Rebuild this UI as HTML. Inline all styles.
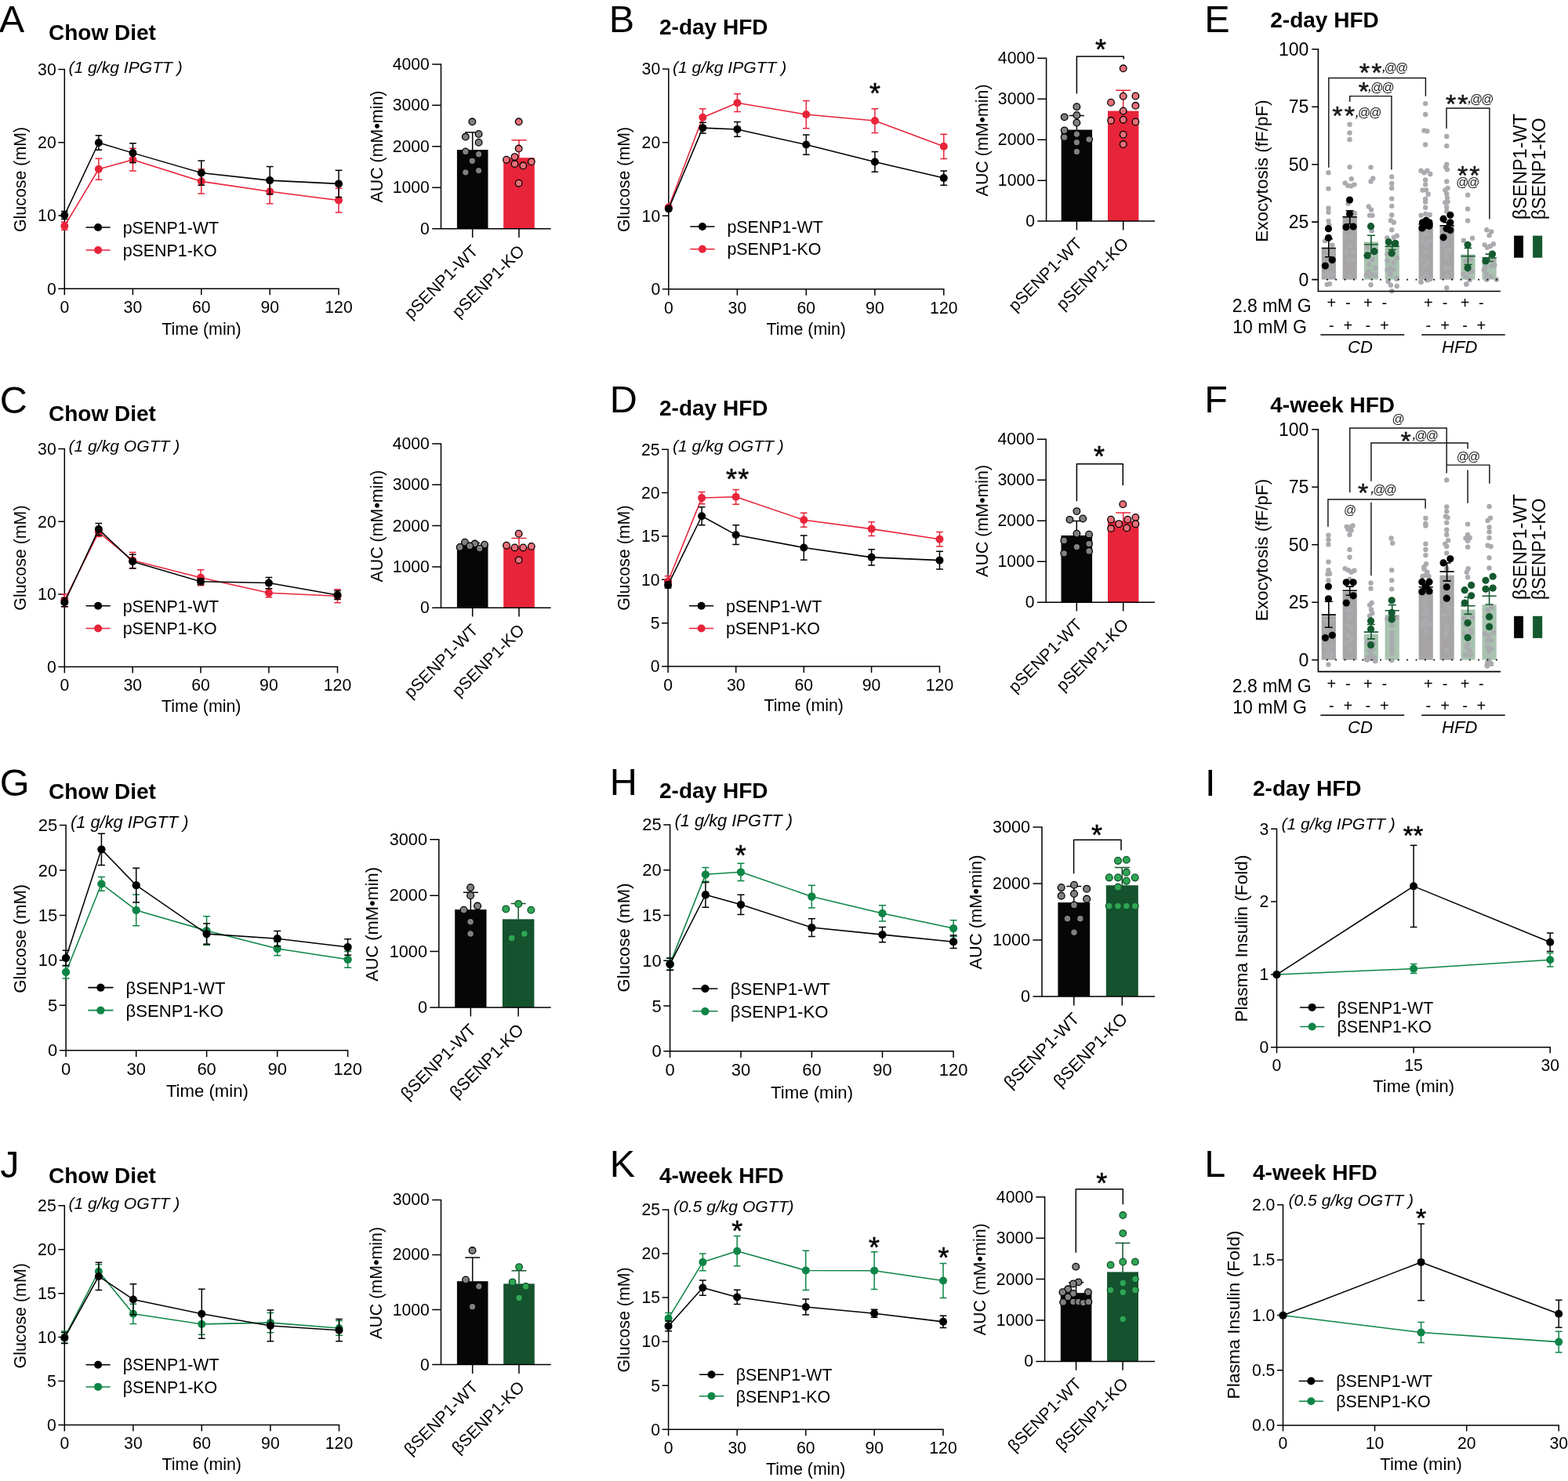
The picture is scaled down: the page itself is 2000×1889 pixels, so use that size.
<!DOCTYPE html>
<html lang="en"><head><meta charset="utf-8"><title>Figure</title>
<style>html,body{margin:0;padding:0;background:#fff}body{width:2000px;height:1889px}svg{display:block}text{font-family:"Liberation Sans", sans-serif}</style></head>
<body>
<svg width="2000" height="1889" viewBox="0 0 2000 1889">
<g>
<text x="-1.3" y="40.5" font-size="48.6">A</text>
<text x="62" y="50.5" font-size="28" font-weight="bold">Chow Diet</text>
<text x="87.5" y="92.5" font-size="21.1" font-style="italic">(1 g/kg IPGTT )</text>
<path d="M82.3 87.85V368.3M74.3 368.3H432.75M74.3 275.07H82.3M74.3 181.83H82.3M74.3 88.6H82.3M82.3 368.3V376.3M169.4 368.3V376.3M256.8 368.3V376.3M344.2 368.3V376.3M432 368.3V376.3" stroke="#000" stroke-width="1.5" fill="none"/>
<text x="71.7" y="375.6" font-size="21.2" text-anchor="end">0</text>
<text x="71.7" y="282.37" font-size="21.2" text-anchor="end">10</text>
<text x="71.7" y="189.13" font-size="21.2" text-anchor="end">20</text>
<text x="71.7" y="95.9" font-size="21.2" text-anchor="end">30</text>
<text x="82.3" y="399" font-size="21.2" text-anchor="middle">0</text>
<text x="169.4" y="399" font-size="21.2" text-anchor="middle">30</text>
<text x="256.8" y="399" font-size="21.2" text-anchor="middle">60</text>
<text x="344.2" y="399" font-size="21.2" text-anchor="middle">90</text>
<text x="432" y="399" font-size="21.2" text-anchor="middle">120</text>
<text x="32.7" y="228.9" font-size="21.4" text-anchor="middle" transform="rotate(-90 32.7 228.9)">Glucose (mM)</text>
<text x="257" y="426.5" font-size="21.4" text-anchor="middle">Time (min)</text>
<path d="M82.33 283.23V293.3M77.98 283.23H86.68M77.98 293.3H86.68" stroke="#E8243A" stroke-width="1.5" fill="none"/>
<path d="M125.88 202.17V229.36M121.53 202.17H130.23M121.53 229.36H130.23" stroke="#E8243A" stroke-width="1.5" fill="none"/>
<path d="M169.44 189.33V218.03M165.09 189.33H173.79M165.09 218.03H173.79" stroke="#E8243A" stroke-width="1.5" fill="none"/>
<path d="M256.8 215.76V246.98M252.45 215.76H261.15M252.45 246.98H261.15" stroke="#E8243A" stroke-width="1.5" fill="none"/>
<path d="M344.16 228.6V259.82M339.81 228.6H348.51M339.81 259.82H348.51" stroke="#E8243A" stroke-width="1.5" fill="none"/>
<path d="M432.02 240.18V270.9M427.67 240.18H436.37M427.67 270.9H436.37" stroke="#E8243A" stroke-width="1.5" fill="none"/>
<path d="M82.33 288.27L125.88 215.76L169.44 203.68L256.8 231.37L344.16 244.21L432.02 255.54" stroke="#E8243A" stroke-width="1.55" fill="none" stroke-linejoin="round"/>
<circle cx="82.33" cy="288.27" r="5" fill="#E8243A"/>
<circle cx="125.88" cy="215.76" r="5" fill="#E8243A"/>
<circle cx="169.44" cy="203.68" r="5" fill="#E8243A"/>
<circle cx="256.8" cy="231.37" r="5" fill="#E8243A"/>
<circle cx="344.16" cy="244.21" r="5" fill="#E8243A"/>
<circle cx="432.02" cy="255.54" r="5" fill="#E8243A"/>
<path d="M82.33 269.39V279.46M77.98 269.39H86.68M77.98 279.46H86.68" stroke="#000000" stroke-width="1.5" fill="none"/>
<path d="M125.88 172.71V191.34M121.53 172.71H130.23M121.53 191.34H130.23" stroke="#000000" stroke-width="1.5" fill="none"/>
<path d="M169.44 182.78V207.45M165.09 182.78H173.79M165.09 207.45H173.79" stroke="#000000" stroke-width="1.5" fill="none"/>
<path d="M256.8 204.93V236.15M252.45 204.93H261.15M252.45 236.15H261.15" stroke="#000000" stroke-width="1.5" fill="none"/>
<path d="M344.16 212.49V247.73M339.81 212.49H348.51M339.81 247.73H348.51" stroke="#000000" stroke-width="1.5" fill="none"/>
<path d="M432.02 217.27V251.51M427.67 217.27H436.37M427.67 251.51H436.37" stroke="#000000" stroke-width="1.5" fill="none"/>
<path d="M82.33 274.42L125.88 182.02L169.44 195.12L256.8 220.54L344.16 230.11L432.02 234.39" stroke="#000000" stroke-width="1.55" fill="none" stroke-linejoin="round"/>
<circle cx="82.33" cy="274.42" r="5" fill="#000000"/>
<circle cx="125.88" cy="182.02" r="5" fill="#000000"/>
<circle cx="169.44" cy="195.12" r="5" fill="#000000"/>
<circle cx="256.8" cy="220.54" r="5" fill="#000000"/>
<circle cx="344.16" cy="230.11" r="5" fill="#000000"/>
<circle cx="432.02" cy="234.39" r="5" fill="#000000"/>
<line x1="110.1" y1="290" x2="140.1" y2="290" stroke="#000000" stroke-width="1.55" stroke-linecap="round"/>
<circle cx="125.1" cy="290" r="5" fill="#000000"/>
<text x="156.7" y="297.7" font-size="21.4">pSENP1-WT</text>
<line x1="110.1" y1="319" x2="140.1" y2="319" stroke="#E8243A" stroke-width="1.55" stroke-linecap="round"/>
<circle cx="125.1" cy="319" r="5" fill="#E8243A"/>
<text x="156.7" y="326.7" font-size="21.4">pSENP1-KO</text>
</g>
<g>
<rect x="582.9" y="191.1" width="39.6" height="100.6" fill="#060606"/>
<path d="M602.7 168.7V191.1M593.2 168.7H612.2" stroke="#060606" stroke-width="1.5" fill="none"/>
<rect x="642.2" y="201.2" width="39.6" height="90.5" fill="#E8243A"/>
<path d="M662 178.8V201.2M652.5 178.8H671.5" stroke="#E8243A" stroke-width="1.5" fill="none"/>
<path d="M562.5 81.15V291.7M551.2 291.7H702.7M551.2 239.25H562.5M551.2 186.8H562.5M551.2 134.35H562.5M551.2 81.9H562.5M602.7 291.7V303M662 291.7V303" stroke="#000" stroke-width="1.5" fill="none"/>
<text x="547.9" y="298.7" font-size="21.2" text-anchor="end">0</text>
<text x="547.9" y="246.25" font-size="21.2" text-anchor="end">1000</text>
<text x="547.9" y="193.8" font-size="21.2" text-anchor="end">2000</text>
<text x="547.9" y="141.35" font-size="21.2" text-anchor="end">3000</text>
<text x="547.9" y="88.9" font-size="21.2" text-anchor="end">4000</text>
<text x="487.5" y="187" font-size="21.4" text-anchor="middle" transform="rotate(-90 487.5 187)">AUC (mM•min)</text>
<circle cx="602.34" cy="155.32" r="4.3" fill="#808080" stroke="#000" stroke-width="1.3"/>
<circle cx="610.62" cy="170.99" r="4.3" fill="#808080" stroke="#000" stroke-width="1.3"/>
<circle cx="593.83" cy="174.57" r="4.3" fill="#808080" stroke="#000" stroke-width="1.3"/>
<circle cx="610.62" cy="181.74" r="4.3" fill="#808080" stroke="#000" stroke-width="1.3"/>
<circle cx="593.83" cy="193.38" r="4.3" fill="#808080" stroke="#000" stroke-width="1.3"/>
<circle cx="610.62" cy="196.74" r="4.3" fill="#808080" stroke="#000" stroke-width="1.3"/>
<circle cx="602.34" cy="205.25" r="4.3" fill="#808080" stroke="#000" stroke-width="1.3"/>
<circle cx="610.62" cy="217.56" r="4.3" fill="#808080" stroke="#000" stroke-width="1.3"/>
<circle cx="593.83" cy="219.8" r="4.3" fill="#808080" stroke="#000" stroke-width="1.3"/>
<text x="610.9" y="321.5" font-size="21.4" text-anchor="end" transform="rotate(-45 610.9 321.5)">pSENP1-WT</text>
<circle cx="661.67" cy="155.32" r="4.3" fill="#E8707A" stroke="#000" stroke-width="1.3"/>
<circle cx="661.67" cy="189.57" r="4.3" fill="#E8707A" stroke="#000" stroke-width="1.3"/>
<circle cx="656.52" cy="200.1" r="4.3" fill="#E8707A" stroke="#000" stroke-width="1.3"/>
<circle cx="646" cy="203.68" r="4.3" fill="#E8707A" stroke="#000" stroke-width="1.3"/>
<circle cx="677.8" cy="206.37" r="4.3" fill="#E8707A" stroke="#000" stroke-width="1.3"/>
<circle cx="656.52" cy="209.06" r="4.3" fill="#E8707A" stroke="#000" stroke-width="1.3"/>
<circle cx="667.27" cy="211.29" r="4.3" fill="#E8707A" stroke="#000" stroke-width="1.3"/>
<circle cx="661.67" cy="233.69" r="4.3" fill="#E8707A" stroke="#000" stroke-width="1.3"/>
<text x="670.2" y="321.5" font-size="21.4" text-anchor="end" transform="rotate(-45 670.2 321.5)">pSENP1-KO</text>
</g>
<g>
<text x="776.7" y="40.5" font-size="48.6">B</text>
<text x="841" y="43.5" font-size="28" font-weight="bold">2-day HFD</text>
<text x="858" y="92.5" font-size="21.1" font-style="italic">(1 g/kg IPGTT )</text>
<path d="M852.8 87.35V368.8M844.8 368.8H1204.55M844.8 275.23H852.8M844.8 181.67H852.8M844.8 88.1H852.8M852.8 368.8V376.8M940.4 368.8V376.8M1028.3 368.8V376.8M1115.9 368.8V376.8M1203.8 368.8V376.8" stroke="#000" stroke-width="1.5" fill="none"/>
<text x="842.2" y="376.1" font-size="21.2" text-anchor="end">0</text>
<text x="842.2" y="282.53" font-size="21.2" text-anchor="end">10</text>
<text x="842.2" y="188.97" font-size="21.2" text-anchor="end">20</text>
<text x="842.2" y="95.4" font-size="21.2" text-anchor="end">30</text>
<text x="852.8" y="399.5" font-size="21.2" text-anchor="middle">0</text>
<text x="940.4" y="399.5" font-size="21.2" text-anchor="middle">30</text>
<text x="1028.3" y="399.5" font-size="21.2" text-anchor="middle">60</text>
<text x="1115.9" y="399.5" font-size="21.2" text-anchor="middle">90</text>
<text x="1203.8" y="399.5" font-size="21.2" text-anchor="middle">120</text>
<text x="802.7" y="228.9" font-size="21.4" text-anchor="middle" transform="rotate(-90 802.7 228.9)">Glucose (mM)</text>
<text x="1028.3" y="426.5" font-size="21.4" text-anchor="middle">Time (min)</text>
<path d="M896.38 138.72V160.88M892.03 138.72H900.73M892.03 160.88H900.73" stroke="#E8243A" stroke-width="1.5" fill="none"/>
<path d="M940.44 119.84V142.5M936.09 119.84H944.79M936.09 142.5H944.79" stroke="#E8243A" stroke-width="1.5" fill="none"/>
<path d="M1028.31 128.4V163.65M1023.96 128.4H1032.66M1023.96 163.65H1032.66" stroke="#E8243A" stroke-width="1.5" fill="none"/>
<path d="M1115.92 138.72V169.44M1111.57 138.72H1120.27M1111.57 169.44H1120.27" stroke="#E8243A" stroke-width="1.5" fill="none"/>
<path d="M1203.79 171.2V202.42M1199.44 171.2H1208.14M1199.44 202.42H1208.14" stroke="#E8243A" stroke-width="1.5" fill="none"/>
<path d="M852.83 264.35L896.38 149.8L940.44 131.17L1028.31 146.02L1115.92 154.08L1203.79 186.81" stroke="#E8243A" stroke-width="1.55" fill="none" stroke-linejoin="round"/>
<circle cx="852.83" cy="264.35" r="5" fill="#E8243A"/>
<circle cx="896.38" cy="149.8" r="5" fill="#E8243A"/>
<circle cx="940.44" cy="131.17" r="5" fill="#E8243A"/>
<circle cx="1028.31" cy="146.02" r="5" fill="#E8243A"/>
<circle cx="1115.92" cy="154.08" r="5" fill="#E8243A"/>
<circle cx="1203.79" cy="186.81" r="5" fill="#E8243A"/>
<path d="M896.38 156.34V169.94M892.03 156.34H900.73M892.03 169.94H900.73" stroke="#000000" stroke-width="1.5" fill="none"/>
<path d="M940.44 155.59V174.22M936.09 155.59H944.79M936.09 174.22H944.79" stroke="#000000" stroke-width="1.5" fill="none"/>
<path d="M1028.31 171.95V197.13M1023.96 171.95H1032.66M1023.96 197.13H1032.66" stroke="#000000" stroke-width="1.5" fill="none"/>
<path d="M1115.92 193.61V219.28M1111.57 193.61H1120.27M1111.57 219.28H1120.27" stroke="#000000" stroke-width="1.5" fill="none"/>
<path d="M1203.79 218.03V236.15M1199.44 218.03H1208.14M1199.44 236.15H1208.14" stroke="#000000" stroke-width="1.5" fill="none"/>
<path d="M852.83 266.36L896.38 163.14L940.44 164.9L1028.31 184.54L1115.92 206.45L1203.79 227.09" stroke="#000000" stroke-width="1.55" fill="none" stroke-linejoin="round"/>
<circle cx="852.83" cy="266.36" r="5" fill="#000000"/>
<circle cx="896.38" cy="163.14" r="5" fill="#000000"/>
<circle cx="940.44" cy="164.9" r="5" fill="#000000"/>
<circle cx="1028.31" cy="184.54" r="5" fill="#000000"/>
<circle cx="1115.92" cy="206.45" r="5" fill="#000000"/>
<circle cx="1203.79" cy="227.09" r="5" fill="#000000"/>
<line x1="880.9" y1="289" x2="910.9" y2="289" stroke="#000000" stroke-width="1.55" stroke-linecap="round"/>
<circle cx="895.9" cy="289" r="5" fill="#000000"/>
<text x="927.4" y="296.7" font-size="21.4">pSENP1-WT</text>
<line x1="880.9" y1="317.7" x2="910.9" y2="317.7" stroke="#E8243A" stroke-width="1.55" stroke-linecap="round"/>
<circle cx="895.9" cy="317.7" r="5" fill="#E8243A"/>
<text x="927.4" y="325.4" font-size="21.4">pSENP1-KO</text>
<text x="1115.9" y="131.75" font-size="36" text-anchor="middle" stroke="#000" stroke-width="0.5">*</text>
</g>
<g>
<rect x="1353.7" y="165.5" width="39.4" height="116.6" fill="#060606"/>
<path d="M1373.4 147.6V165.5M1363.9 147.6H1382.9" stroke="#060606" stroke-width="1.5" fill="none"/>
<rect x="1413" y="141.5" width="39.4" height="140.6" fill="#E8243A"/>
<path d="M1432.7 115.3V141.5M1423.2 115.3H1442.2" stroke="#E8243A" stroke-width="1.5" fill="none"/>
<path d="M1334.6 73.55V282.1M1323.3 282.1H1473M1323.3 230.15H1334.6M1323.3 178.2H1334.6M1323.3 126.25H1334.6M1323.3 74.3H1334.6M1373.4 282.1V293.4M1432.7 282.1V293.4" stroke="#000" stroke-width="1.5" fill="none"/>
<text x="1320" y="289.1" font-size="21.2" text-anchor="end">0</text>
<text x="1320" y="237.15" font-size="21.2" text-anchor="end">1000</text>
<text x="1320" y="185.2" font-size="21.2" text-anchor="end">2000</text>
<text x="1320" y="133.25" font-size="21.2" text-anchor="end">3000</text>
<text x="1320" y="81.3" font-size="21.2" text-anchor="end">4000</text>
<text x="1260.3" y="178.9" font-size="21.4" text-anchor="middle" transform="rotate(-90 1260.3 178.9)">AUC (mM•min)</text>
<circle cx="1373.38" cy="136.14" r="4.3" fill="#808080" stroke="#000" stroke-width="1.3"/>
<circle cx="1357.71" cy="149.35" r="4.3" fill="#808080" stroke="#000" stroke-width="1.3"/>
<circle cx="1373.38" cy="146.88" r="4.3" fill="#808080" stroke="#000" stroke-width="1.3"/>
<circle cx="1373.38" cy="156.51" r="4.3" fill="#808080" stroke="#000" stroke-width="1.3"/>
<circle cx="1357.71" cy="166.36" r="4.3" fill="#808080" stroke="#000" stroke-width="1.3"/>
<circle cx="1373.38" cy="171.07" r="4.3" fill="#808080" stroke="#000" stroke-width="1.3"/>
<circle cx="1357.71" cy="175.1" r="4.3" fill="#808080" stroke="#000" stroke-width="1.3"/>
<circle cx="1389.06" cy="177.78" r="4.3" fill="#808080" stroke="#000" stroke-width="1.3"/>
<circle cx="1373.38" cy="181.59" r="4.3" fill="#808080" stroke="#000" stroke-width="1.3"/>
<circle cx="1373.38" cy="193.46" r="4.3" fill="#808080" stroke="#000" stroke-width="1.3"/>
<text x="1381.6" y="311.9" font-size="21.4" text-anchor="end" transform="rotate(-45 1381.6 311.9)">pSENP1-WT</text>
<circle cx="1432.72" cy="87.32" r="4.3" fill="#E8707A" stroke="#000" stroke-width="1.3"/>
<circle cx="1432.72" cy="122.7" r="4.3" fill="#E8707A" stroke="#000" stroke-width="1.3"/>
<circle cx="1448.39" cy="122.48" r="4.3" fill="#E8707A" stroke="#000" stroke-width="1.3"/>
<circle cx="1417.04" cy="130.76" r="4.3" fill="#E8707A" stroke="#000" stroke-width="1.3"/>
<circle cx="1448.39" cy="134.79" r="4.3" fill="#E8707A" stroke="#000" stroke-width="1.3"/>
<circle cx="1432.72" cy="141.51" r="4.3" fill="#E8707A" stroke="#000" stroke-width="1.3"/>
<circle cx="1417.04" cy="153.82" r="4.3" fill="#E8707A" stroke="#000" stroke-width="1.3"/>
<circle cx="1432.72" cy="152.7" r="4.3" fill="#E8707A" stroke="#000" stroke-width="1.3"/>
<circle cx="1448.39" cy="155.39" r="4.3" fill="#E8707A" stroke="#000" stroke-width="1.3"/>
<circle cx="1432.72" cy="171.74" r="4.3" fill="#E8707A" stroke="#000" stroke-width="1.3"/>
<circle cx="1432.72" cy="184.05" r="4.3" fill="#E8707A" stroke="#000" stroke-width="1.3"/>
<text x="1440.9" y="311.9" font-size="21.4" text-anchor="end" transform="rotate(-45 1440.9 311.9)">pSENP1-KO</text>
<path d="M1373.4 119.6V72.1H1433.2V75.5" stroke="#000" stroke-width="1.5" fill="none" stroke-linejoin="round"/>
<text x="1404" y="75.85" font-size="36" text-anchor="middle" stroke="#000" stroke-width="0.5">*</text>
</g>
<g>
<text x="-0.3" y="526.5" font-size="48.6">C</text>
<text x="62" y="536.5" font-size="28" font-weight="bold">Chow Diet</text>
<text x="87.5" y="575.7" font-size="21.1" font-style="italic">(1 g/kg OGTT )</text>
<path d="M82.3 571.85V850.6M74.3 850.6H431.25M74.3 757.93H82.3M74.3 665.27H82.3M74.3 572.6H82.3M82.3 850.6V858.6M169.2 850.6V858.6M256 850.6V858.6M342.9 850.6V858.6M430.5 850.6V858.6" stroke="#000" stroke-width="1.5" fill="none"/>
<text x="71.7" y="857.9" font-size="21.2" text-anchor="end">0</text>
<text x="71.7" y="765.23" font-size="21.2" text-anchor="end">10</text>
<text x="71.7" y="672.57" font-size="21.2" text-anchor="end">20</text>
<text x="71.7" y="579.9" font-size="21.2" text-anchor="end">30</text>
<text x="82.3" y="881.3" font-size="21.2" text-anchor="middle">0</text>
<text x="169.2" y="881.3" font-size="21.2" text-anchor="middle">30</text>
<text x="256" y="881.3" font-size="21.2" text-anchor="middle">60</text>
<text x="342.9" y="881.3" font-size="21.2" text-anchor="middle">90</text>
<text x="430.5" y="881.3" font-size="21.2" text-anchor="middle">120</text>
<text x="32.7" y="711.6" font-size="21.4" text-anchor="middle" transform="rotate(-90 32.7 711.6)">Glucose (mM)</text>
<text x="256.8" y="908" font-size="21.4" text-anchor="middle">Time (min)</text>
<path d="M82.33 757.69V773.81M77.98 757.69H86.68M77.98 773.81H86.68" stroke="#E8243A" stroke-width="1.5" fill="none"/>
<path d="M125.88 673.35V684.43M121.53 673.35H130.23M121.53 684.43H130.23" stroke="#E8243A" stroke-width="1.5" fill="none"/>
<path d="M169.18 704.57V724.71M164.83 704.57H173.53M164.83 724.71H173.53" stroke="#E8243A" stroke-width="1.5" fill="none"/>
<path d="M256.04 726.73V746.87M251.69 726.73H260.39M251.69 746.87H260.39" stroke="#E8243A" stroke-width="1.5" fill="none"/>
<path d="M342.9 750.64V761.72M338.55 750.64H347.25M338.55 761.72H347.25" stroke="#E8243A" stroke-width="1.5" fill="none"/>
<path d="M430.51 751.65V768.77M426.16 751.65H434.86M426.16 768.77H434.86" stroke="#E8243A" stroke-width="1.5" fill="none"/>
<path d="M82.33 765.75L125.88 678.89L169.18 714.64L256.04 736.8L342.9 756.18L430.51 760.21" stroke="#E8243A" stroke-width="1.55" fill="none" stroke-linejoin="round"/>
<circle cx="82.33" cy="765.75" r="5" fill="#E8243A"/>
<circle cx="125.88" cy="678.89" r="5" fill="#E8243A"/>
<circle cx="169.18" cy="714.64" r="5" fill="#E8243A"/>
<circle cx="256.04" cy="736.8" r="5" fill="#E8243A"/>
<circle cx="342.9" cy="756.18" r="5" fill="#E8243A"/>
<circle cx="430.51" cy="760.21" r="5" fill="#E8243A"/>
<path d="M82.33 762.73V773.81M77.98 762.73H86.68M77.98 773.81H86.68" stroke="#000000" stroke-width="1.5" fill="none"/>
<path d="M125.88 667.56V682.67M121.53 667.56H130.23M121.53 682.67H130.23" stroke="#000000" stroke-width="1.5" fill="none"/>
<path d="M169.18 707.34V724.96M164.83 707.34H173.53M164.83 724.96H173.53" stroke="#000000" stroke-width="1.5" fill="none"/>
<path d="M256.04 738.06V745.61M251.69 738.06H260.39M251.69 745.61H260.39" stroke="#000000" stroke-width="1.5" fill="none"/>
<path d="M342.9 736.55V750.64M338.55 736.55H347.25M338.55 750.64H347.25" stroke="#000000" stroke-width="1.5" fill="none"/>
<path d="M430.51 753.41V764.49M426.16 753.41H434.86M426.16 764.49H434.86" stroke="#000000" stroke-width="1.5" fill="none"/>
<path d="M82.33 768.27L125.88 675.12L169.18 716.15L256.04 741.83L342.9 743.6L430.51 758.95" stroke="#000000" stroke-width="1.55" fill="none" stroke-linejoin="round"/>
<circle cx="82.33" cy="768.27" r="5" fill="#000000"/>
<circle cx="125.88" cy="675.12" r="5" fill="#000000"/>
<circle cx="169.18" cy="716.15" r="5" fill="#000000"/>
<circle cx="256.04" cy="741.83" r="5" fill="#000000"/>
<circle cx="342.9" cy="743.6" r="5" fill="#000000"/>
<circle cx="430.51" cy="758.95" r="5" fill="#000000"/>
<line x1="110.1" y1="772.8" x2="140.1" y2="772.8" stroke="#000000" stroke-width="1.55" stroke-linecap="round"/>
<circle cx="125.1" cy="772.8" r="5" fill="#000000"/>
<text x="156.7" y="780.5" font-size="21.4">pSENP1-WT</text>
<line x1="110.1" y1="801.5" x2="140.1" y2="801.5" stroke="#E8243A" stroke-width="1.55" stroke-linecap="round"/>
<circle cx="125.1" cy="801.5" r="5" fill="#E8243A"/>
<text x="156.7" y="809.2" font-size="21.4">pSENP1-KO</text>
</g>
<g>
<rect x="582.9" y="695.1" width="39.6" height="80.2" fill="#060606"/>
<path d="M602.7 692.4V695.1M593.2 692.4H612.2" stroke="#060606" stroke-width="1.5" fill="none"/>
<rect x="642.2" y="698" width="39.6" height="77.3" fill="#E8243A"/>
<path d="M662 686.4V698M652.5 686.4H671.5" stroke="#E8243A" stroke-width="1.5" fill="none"/>
<path d="M562.5 565.15V775.3M551.2 775.3H702.7M551.2 722.95H562.5M551.2 670.6H562.5M551.2 618.25H562.5M551.2 565.9H562.5M602.7 775.3V786.6M662 775.3V786.6" stroke="#000" stroke-width="1.5" fill="none"/>
<text x="547.9" y="782.3" font-size="21.2" text-anchor="end">0</text>
<text x="547.9" y="729.95" font-size="21.2" text-anchor="end">1000</text>
<text x="547.9" y="677.6" font-size="21.2" text-anchor="end">2000</text>
<text x="547.9" y="625.25" font-size="21.2" text-anchor="end">3000</text>
<text x="547.9" y="572.9" font-size="21.2" text-anchor="end">4000</text>
<text x="487.5" y="671" font-size="21.4" text-anchor="middle" transform="rotate(-90 487.5 671)">AUC (mM•min)</text>
<circle cx="592.93" cy="691.74" r="4.3" fill="#808080" stroke="#000" stroke-width="1.3"/>
<circle cx="605.7" cy="693.53" r="4.3" fill="#808080" stroke="#000" stroke-width="1.3"/>
<circle cx="618.01" cy="694.65" r="4.3" fill="#808080" stroke="#000" stroke-width="1.3"/>
<circle cx="586.66" cy="698.01" r="4.3" fill="#808080" stroke="#000" stroke-width="1.3"/>
<circle cx="599.2" cy="696.44" r="4.3" fill="#808080" stroke="#000" stroke-width="1.3"/>
<circle cx="611.74" cy="699.58" r="4.3" fill="#808080" stroke="#000" stroke-width="1.3"/>
<text x="610.9" y="805.1" font-size="21.4" text-anchor="end" transform="rotate(-45 610.9 805.1)">pSENP1-WT</text>
<circle cx="661.67" cy="680.77" r="4.3" fill="#E8707A" stroke="#000" stroke-width="1.3"/>
<circle cx="646" cy="695.77" r="4.3" fill="#E8707A" stroke="#000" stroke-width="1.3"/>
<circle cx="656.52" cy="698.46" r="4.3" fill="#E8707A" stroke="#000" stroke-width="1.3"/>
<circle cx="667.27" cy="698.46" r="4.3" fill="#E8707A" stroke="#000" stroke-width="1.3"/>
<circle cx="677.8" cy="696.89" r="4.3" fill="#E8707A" stroke="#000" stroke-width="1.3"/>
<circle cx="661.67" cy="714.36" r="4.3" fill="#E8707A" stroke="#000" stroke-width="1.3"/>
<text x="670.2" y="805.1" font-size="21.4" text-anchor="end" transform="rotate(-45 670.2 805.1)">pSENP1-KO</text>
</g>
<g>
<text x="777.7" y="526.1" font-size="48.6">D</text>
<text x="841" y="530.3" font-size="28" font-weight="bold">2-day HFD</text>
<text x="858" y="576.3" font-size="21.1" font-style="italic">(1 g/kg OGTT )</text>
<path d="M852.1 572.45V850.1M844.1 850.1H1199.25M844.1 794.72H852.1M844.1 739.34H852.1M844.1 683.96H852.1M844.1 628.58H852.1M844.1 573.2H852.1M852.1 850.1V858.1M938.7 850.1V858.1M1025.3 850.1V858.1M1111.6 850.1V858.1M1198.5 850.1V858.1" stroke="#000" stroke-width="1.5" fill="none"/>
<text x="841.5" y="857.4" font-size="21.2" text-anchor="end">0</text>
<text x="841.5" y="802.02" font-size="21.2" text-anchor="end">5</text>
<text x="841.5" y="746.64" font-size="21.2" text-anchor="end">10</text>
<text x="841.5" y="691.26" font-size="21.2" text-anchor="end">15</text>
<text x="841.5" y="635.88" font-size="21.2" text-anchor="end">20</text>
<text x="841.5" y="580.5" font-size="21.2" text-anchor="end">25</text>
<text x="852.1" y="880.8" font-size="21.2" text-anchor="middle">0</text>
<text x="938.7" y="880.8" font-size="21.2" text-anchor="middle">30</text>
<text x="1025.3" y="880.8" font-size="21.2" text-anchor="middle">60</text>
<text x="1111.6" y="880.8" font-size="21.2" text-anchor="middle">90</text>
<text x="1198.5" y="880.8" font-size="21.2" text-anchor="middle">120</text>
<text x="802.7" y="711.6" font-size="21.4" text-anchor="middle" transform="rotate(-90 802.7 711.6)">Glucose (mM)</text>
<text x="1025.3" y="907.2" font-size="21.4" text-anchor="middle">Time (min)</text>
<path d="M852.07 734.78V748.88M847.72 734.78H856.42M847.72 748.88H856.42" stroke="#E8243A" stroke-width="1.5" fill="none"/>
<path d="M895.13 627.53V642.64M890.78 627.53H899.48M890.78 642.64H899.48" stroke="#E8243A" stroke-width="1.5" fill="none"/>
<path d="M938.68 624.51V643.14M934.33 624.51H943.03M934.33 643.14H943.03" stroke="#E8243A" stroke-width="1.5" fill="none"/>
<path d="M1025.29 654.22V672.35M1020.94 654.22H1029.64M1020.94 672.35H1029.64" stroke="#E8243A" stroke-width="1.5" fill="none"/>
<path d="M1111.64 665.8V683.42M1107.29 665.8H1115.99M1107.29 683.42H1115.99" stroke="#E8243A" stroke-width="1.5" fill="none"/>
<path d="M1198.5 678.39V697.02M1194.15 678.39H1202.85M1194.15 697.02H1202.85" stroke="#E8243A" stroke-width="1.5" fill="none"/>
<path d="M852.07 741.83L895.13 635.09L938.68 633.83L1025.29 663.28L1111.64 674.61L1198.5 687.7" stroke="#E8243A" stroke-width="1.55" fill="none" stroke-linejoin="round"/>
<circle cx="852.07" cy="741.83" r="5" fill="#E8243A"/>
<circle cx="895.13" cy="635.09" r="5" fill="#E8243A"/>
<circle cx="938.68" cy="633.83" r="5" fill="#E8243A"/>
<circle cx="1025.29" cy="663.28" r="5" fill="#E8243A"/>
<circle cx="1111.64" cy="674.61" r="5" fill="#E8243A"/>
<circle cx="1198.5" cy="687.7" r="5" fill="#E8243A"/>
<path d="M852.07 742.34V749.89M847.72 742.34H856.42M847.72 749.89H856.42" stroke="#000000" stroke-width="1.5" fill="none"/>
<path d="M895.13 646.67V669.83M890.78 646.67H899.48M890.78 669.83H899.48" stroke="#000000" stroke-width="1.5" fill="none"/>
<path d="M938.68 669.83V694.5M934.33 669.83H943.03M934.33 694.5H943.03" stroke="#000000" stroke-width="1.5" fill="none"/>
<path d="M1025.29 682.92V714.14M1020.94 682.92H1029.64M1020.94 714.14H1029.64" stroke="#000000" stroke-width="1.5" fill="none"/>
<path d="M1111.64 700.8V720.94M1107.29 700.8H1115.99M1107.29 720.94H1115.99" stroke="#000000" stroke-width="1.5" fill="none"/>
<path d="M1198.5 703.31V725.97M1194.15 703.31H1202.85M1194.15 725.97H1202.85" stroke="#000000" stroke-width="1.5" fill="none"/>
<path d="M852.07 746.11L895.13 658.25L938.68 682.17L1025.29 698.53L1111.64 710.87L1198.5 714.64" stroke="#000000" stroke-width="1.55" fill="none" stroke-linejoin="round"/>
<circle cx="852.07" cy="746.11" r="5" fill="#000000"/>
<circle cx="895.13" cy="658.25" r="5" fill="#000000"/>
<circle cx="938.68" cy="682.17" r="5" fill="#000000"/>
<circle cx="1025.29" cy="698.53" r="5" fill="#000000"/>
<circle cx="1111.64" cy="710.87" r="5" fill="#000000"/>
<circle cx="1198.5" cy="714.64" r="5" fill="#000000"/>
<line x1="879.6" y1="772.8" x2="909.6" y2="772.8" stroke="#000000" stroke-width="1.55" stroke-linecap="round"/>
<circle cx="894.6" cy="772.8" r="5" fill="#000000"/>
<text x="925.9" y="780.5" font-size="21.4">pSENP1-WT</text>
<line x1="879.6" y1="801.5" x2="909.6" y2="801.5" stroke="#E8243A" stroke-width="1.55" stroke-linecap="round"/>
<circle cx="894.6" cy="801.5" r="5" fill="#E8243A"/>
<text x="925.9" y="809.2" font-size="21.4">pSENP1-KO</text>
<text x="941.3" y="623.65" font-size="36" text-anchor="middle" stroke="#000" stroke-width="0.5" letter-spacing="1.2">**</text>
</g>
<g>
<rect x="1353.5" y="683" width="39.6" height="85.3" fill="#060606"/>
<path d="M1373.3 664.4V683M1363.8 664.4H1382.8" stroke="#060606" stroke-width="1.5" fill="none"/>
<rect x="1413" y="664.4" width="39.4" height="103.9" fill="#E8243A"/>
<path d="M1432.7 653.9V664.4M1423.2 653.9H1442.2" stroke="#E8243A" stroke-width="1.5" fill="none"/>
<path d="M1334.2 559.55V768.3M1322.9 768.3H1473M1322.9 716.3H1334.2M1322.9 664.3H1334.2M1322.9 612.3H1334.2M1322.9 560.3H1334.2M1373.3 768.3V779.6M1432.7 768.3V779.6" stroke="#000" stroke-width="1.5" fill="none"/>
<text x="1319.6" y="775.3" font-size="21.2" text-anchor="end">0</text>
<text x="1319.6" y="723.3" font-size="21.2" text-anchor="end">1000</text>
<text x="1319.6" y="671.3" font-size="21.2" text-anchor="end">2000</text>
<text x="1319.6" y="619.3" font-size="21.2" text-anchor="end">3000</text>
<text x="1319.6" y="567.3" font-size="21.2" text-anchor="end">4000</text>
<text x="1260.3" y="664.4" font-size="21.4" text-anchor="middle" transform="rotate(-90 1260.3 664.4)">AUC (mM•min)</text>
<circle cx="1373.38" cy="652.11" r="4.3" fill="#808080" stroke="#000" stroke-width="1.3"/>
<circle cx="1364.42" cy="662.86" r="4.3" fill="#808080" stroke="#000" stroke-width="1.3"/>
<circle cx="1381.22" cy="661.51" r="4.3" fill="#808080" stroke="#000" stroke-width="1.3"/>
<circle cx="1373.38" cy="680.77" r="4.3" fill="#808080" stroke="#000" stroke-width="1.3"/>
<circle cx="1389.06" cy="681.67" r="4.3" fill="#808080" stroke="#000" stroke-width="1.3"/>
<circle cx="1357.26" cy="689.5" r="4.3" fill="#808080" stroke="#000" stroke-width="1.3"/>
<circle cx="1389.06" cy="693.53" r="4.3" fill="#808080" stroke="#000" stroke-width="1.3"/>
<circle cx="1373.38" cy="697.56" r="4.3" fill="#808080" stroke="#000" stroke-width="1.3"/>
<circle cx="1389.06" cy="702.94" r="4.3" fill="#808080" stroke="#000" stroke-width="1.3"/>
<circle cx="1357.26" cy="705.85" r="4.3" fill="#808080" stroke="#000" stroke-width="1.3"/>
<text x="1381.5" y="798.1" font-size="21.4" text-anchor="end" transform="rotate(-45 1381.5 798.1)">pSENP1-WT</text>
<circle cx="1432.27" cy="643.15" r="4.3" fill="#E8707A" stroke="#000" stroke-width="1.3"/>
<circle cx="1448.39" cy="659.95" r="4.3" fill="#E8707A" stroke="#000" stroke-width="1.3"/>
<circle cx="1417.04" cy="662.63" r="4.3" fill="#E8707A" stroke="#000" stroke-width="1.3"/>
<circle cx="1438.32" cy="662.63" r="4.3" fill="#E8707A" stroke="#000" stroke-width="1.3"/>
<circle cx="1427.12" cy="668.23" r="4.3" fill="#E8707A" stroke="#000" stroke-width="1.3"/>
<circle cx="1448.39" cy="668.23" r="4.3" fill="#E8707A" stroke="#000" stroke-width="1.3"/>
<circle cx="1417.04" cy="674.05" r="4.3" fill="#E8707A" stroke="#000" stroke-width="1.3"/>
<circle cx="1437.2" cy="673.38" r="4.3" fill="#E8707A" stroke="#000" stroke-width="1.3"/>
<text x="1440.9" y="798.1" font-size="21.4" text-anchor="end" transform="rotate(-45 1440.9 798.1)">pSENP1-KO</text>
<path d="M1373.4 639.3V591.7H1432.3V619.2" stroke="#000" stroke-width="1.5" fill="none" stroke-linejoin="round"/>
<text x="1402" y="594.75" font-size="36" text-anchor="middle" stroke="#000" stroke-width="0.5">*</text>
</g>
<g>
<text x="-0.3" y="1014.6" font-size="48.6">G</text>
<text x="62" y="1019" font-size="28" font-weight="bold">Chow Diet</text>
<text x="90" y="1056.3" font-size="21.84" font-style="italic">(1 g/kg IPGTT )</text>
<path d="M84.1 1051.85V1339.7M75.82 1339.7H444.35M75.82 1282.28H84.1M75.82 1224.86H84.1M75.82 1167.44H84.1M75.82 1110.02H84.1M75.82 1052.6H84.1M84.1 1339.7V1347.98M173.7 1339.7V1347.98M263.6 1339.7V1347.98M353.7 1339.7V1347.98M443.6 1339.7V1347.98" stroke="#000" stroke-width="1.5" fill="none"/>
<text x="73.13" y="1347.26" font-size="21.94" text-anchor="end">0</text>
<text x="73.13" y="1289.84" font-size="21.94" text-anchor="end">5</text>
<text x="73.13" y="1232.42" font-size="21.94" text-anchor="end">10</text>
<text x="73.13" y="1175" font-size="21.94" text-anchor="end">15</text>
<text x="73.13" y="1117.58" font-size="21.94" text-anchor="end">20</text>
<text x="73.13" y="1060.16" font-size="21.94" text-anchor="end">25</text>
<text x="84.1" y="1371.47" font-size="21.94" text-anchor="middle">0</text>
<text x="173.7" y="1371.47" font-size="21.94" text-anchor="middle">30</text>
<text x="263.6" y="1371.47" font-size="21.94" text-anchor="middle">60</text>
<text x="353.7" y="1371.47" font-size="21.94" text-anchor="middle">90</text>
<text x="443.6" y="1371.47" font-size="21.94" text-anchor="middle">120</text>
<text x="32.7" y="1197.3" font-size="22.15" text-anchor="middle" transform="rotate(-90 32.7 1197.3)">Glucose (mM)</text>
<text x="264.4" y="1398.6" font-size="22.15" text-anchor="middle">Time (min)</text>
<path d="M84.09 1231.9V1248.02M79.59 1231.9H88.59M79.59 1248.02H88.59" stroke="#0E8546" stroke-width="1.5" fill="none"/>
<path d="M129.41 1118.61V1136.23M124.9 1118.61H133.91M124.9 1136.23H133.91" stroke="#0E8546" stroke-width="1.5" fill="none"/>
<path d="M173.72 1141.02V1180.8M169.21 1141.02H178.22M169.21 1180.8H178.22" stroke="#0E8546" stroke-width="1.5" fill="none"/>
<path d="M263.6 1168.71V1205.47M259.09 1168.71H268.1M259.09 1205.47H268.1" stroke="#0E8546" stroke-width="1.5" fill="none"/>
<path d="M353.73 1201.19V1218.81M349.22 1201.19H358.23M349.22 1218.81H358.23" stroke="#0E8546" stroke-width="1.5" fill="none"/>
<path d="M443.61 1213.52V1234.17M439.1 1213.52H448.11M439.1 1234.17H448.11" stroke="#0E8546" stroke-width="1.5" fill="none"/>
<path d="M84.09 1239.96L129.41 1127.42L173.72 1160.91L263.6 1187.09L353.73 1210L443.61 1223.85" stroke="#0E8546" stroke-width="1.55" fill="none" stroke-linejoin="round"/>
<circle cx="84.09" cy="1239.96" r="5.17" fill="#0E8546"/>
<circle cx="129.41" cy="1127.42" r="5.17" fill="#0E8546"/>
<circle cx="173.72" cy="1160.91" r="5.17" fill="#0E8546"/>
<circle cx="263.6" cy="1187.09" r="5.17" fill="#0E8546"/>
<circle cx="353.73" cy="1210" r="5.17" fill="#0E8546"/>
<circle cx="443.61" cy="1223.85" r="5.17" fill="#0E8546"/>
<path d="M84.09 1212.27V1231.4M79.59 1212.27H88.59M79.59 1231.4H88.59" stroke="#000000" stroke-width="1.5" fill="none"/>
<path d="M129.41 1063.22V1103.5M124.9 1063.22H133.91M124.9 1103.5H133.91" stroke="#000000" stroke-width="1.5" fill="none"/>
<path d="M173.72 1107.28V1151.09M169.21 1107.28H178.22M169.21 1151.09H178.22" stroke="#000000" stroke-width="1.5" fill="none"/>
<path d="M263.6 1178.03V1204.21M259.09 1178.03H268.1M259.09 1204.21H268.1" stroke="#000000" stroke-width="1.5" fill="none"/>
<path d="M353.73 1187.59V1206.73M349.22 1187.59H358.23M349.22 1206.73H358.23" stroke="#000000" stroke-width="1.5" fill="none"/>
<path d="M443.61 1197.66V1218.31M439.1 1197.66H448.11M439.1 1218.31H448.11" stroke="#000000" stroke-width="1.5" fill="none"/>
<path d="M84.09 1221.83L129.41 1083.36L173.72 1129.18L263.6 1191.12L353.73 1197.16L443.61 1207.99" stroke="#000000" stroke-width="1.55" fill="none" stroke-linejoin="round"/>
<circle cx="84.09" cy="1221.83" r="5.17" fill="#000000"/>
<circle cx="129.41" cy="1083.36" r="5.17" fill="#000000"/>
<circle cx="173.72" cy="1129.18" r="5.17" fill="#000000"/>
<circle cx="263.6" cy="1191.12" r="5.17" fill="#000000"/>
<circle cx="353.73" cy="1197.16" r="5.17" fill="#000000"/>
<circle cx="443.61" cy="1207.99" r="5.17" fill="#000000"/>
<line x1="112.88" y1="1259.6" x2="143.93" y2="1259.6" stroke="#000000" stroke-width="1.55" stroke-linecap="round"/>
<circle cx="128.4" cy="1259.6" r="5.17" fill="#000000"/>
<text x="160.4" y="1267.57" font-size="22.15">βSENP1-WT</text>
<line x1="112.88" y1="1288.6" x2="143.93" y2="1288.6" stroke="#0E8546" stroke-width="1.55" stroke-linecap="round"/>
<circle cx="128.4" cy="1288.6" r="5.17" fill="#0E8546"/>
<text x="160.4" y="1296.57" font-size="22.15">βSENP1-KO</text>
</g>
<g>
<rect x="580.2" y="1160.1" width="40.3" height="124.9" fill="#060606"/>
<path d="M600.35 1138.2V1160.1M590.85 1138.2H609.85" stroke="#060606" stroke-width="1.5" fill="none"/>
<rect x="640.9" y="1172.4" width="40.5" height="112.6" fill="#14532D"/>
<path d="M661.15 1152.5V1172.4M651.65 1152.5H670.65" stroke="#14532D" stroke-width="1.5" fill="none"/>
<path d="M559.8 1070.05V1285M548.27 1285H702.7M548.27 1213.6H559.8M548.27 1142.2H559.8M548.27 1070.8H559.8M600.35 1285V1296.53M661.15 1285V1296.53" stroke="#000" stroke-width="1.5" fill="none"/>
<text x="544.91" y="1292.14" font-size="21.62" text-anchor="end">0</text>
<text x="544.91" y="1220.74" font-size="21.62" text-anchor="end">1000</text>
<text x="544.91" y="1149.34" font-size="21.62" text-anchor="end">2000</text>
<text x="544.91" y="1077.94" font-size="21.62" text-anchor="end">3000</text>
<text x="482.5" y="1178.9" font-size="21.83" text-anchor="middle" transform="rotate(-90 482.5 1178.9)">AUC (mM•min)</text>
<circle cx="600.1" cy="1132.11" r="4.39" fill="#808080" stroke="#000" stroke-width="1.3"/>
<circle cx="600.1" cy="1142.19" r="4.39" fill="#808080" stroke="#000" stroke-width="1.3"/>
<circle cx="609.06" cy="1155.62" r="4.39" fill="#808080" stroke="#000" stroke-width="1.3"/>
<circle cx="591.59" cy="1160.77" r="4.39" fill="#808080" stroke="#000" stroke-width="1.3"/>
<circle cx="600.1" cy="1175.77" r="4.39" fill="#808080" stroke="#000" stroke-width="1.3"/>
<circle cx="600.1" cy="1191" r="4.39" fill="#808080" stroke="#000" stroke-width="1.3"/>
<text x="608.55" y="1315.03" font-size="21.83" text-anchor="end" transform="rotate(-45 608.55 1315.03)">βSENP1-WT</text>
<circle cx="661.23" cy="1152.93" r="4.39" fill="#2FA754" stroke="#14532D" stroke-width="1.3"/>
<circle cx="645.33" cy="1159.43" r="4.39" fill="#2FA754" stroke="#14532D" stroke-width="1.3"/>
<circle cx="677.35" cy="1160.77" r="4.39" fill="#2FA754" stroke="#14532D" stroke-width="1.3"/>
<circle cx="668.84" cy="1191" r="4.39" fill="#2FA754" stroke="#14532D" stroke-width="1.3"/>
<circle cx="652.72" cy="1196.6" r="4.39" fill="#2FA754" stroke="#14532D" stroke-width="1.3"/>
<text x="669.35" y="1315.03" font-size="21.83" text-anchor="end" transform="rotate(-45 669.35 1315.03)">βSENP1-KO</text>
</g>
<g>
<text x="777.7" y="1014" font-size="48.6">H</text>
<text x="841" y="1018.3" font-size="28" font-weight="bold">2-day HFD</text>
<text x="860.5" y="1054.3" font-size="21.84" font-style="italic">(1 g/kg IPGTT )</text>
<path d="M854.6 1051.15V1340.7M846.32 1340.7H1216.85M846.32 1282.94H854.6M846.32 1225.18H854.6M846.32 1167.42H854.6M846.32 1109.66H854.6M846.32 1051.9H854.6M854.6 1340.7V1348.98M945 1340.7V1348.98M1035.4 1340.7V1348.98M1125.5 1340.7V1348.98M1216.1 1340.7V1348.98" stroke="#000" stroke-width="1.5" fill="none"/>
<text x="843.63" y="1348.26" font-size="21.94" text-anchor="end">0</text>
<text x="843.63" y="1290.5" font-size="21.94" text-anchor="end">5</text>
<text x="843.63" y="1232.74" font-size="21.94" text-anchor="end">10</text>
<text x="843.63" y="1174.98" font-size="21.94" text-anchor="end">15</text>
<text x="843.63" y="1117.22" font-size="21.94" text-anchor="end">20</text>
<text x="843.63" y="1059.46" font-size="21.94" text-anchor="end">25</text>
<text x="854.6" y="1372.47" font-size="21.94" text-anchor="middle">0</text>
<text x="945" y="1372.47" font-size="21.94" text-anchor="middle">30</text>
<text x="1035.4" y="1372.47" font-size="21.94" text-anchor="middle">60</text>
<text x="1125.5" y="1372.47" font-size="21.94" text-anchor="middle">90</text>
<text x="1216.1" y="1372.47" font-size="21.94" text-anchor="middle">120</text>
<text x="802.7" y="1195.9" font-size="22.15" text-anchor="middle" transform="rotate(-90 802.7 1195.9)">Glucose (mM)</text>
<text x="1035.6" y="1400.6" font-size="22.15" text-anchor="middle">Time (min)</text>
<path d="M854.59 1221.83V1236.94M850.09 1221.83H859.09M850.09 1236.94H859.09" stroke="#0E8546" stroke-width="1.5" fill="none"/>
<path d="M899.91 1106.53V1124.15M895.41 1106.53H904.41M895.41 1124.15H904.41" stroke="#0E8546" stroke-width="1.5" fill="none"/>
<path d="M944.97 1101.24V1123.39M940.47 1101.24H949.48M940.47 1123.39H949.48" stroke="#0E8546" stroke-width="1.5" fill="none"/>
<path d="M1035.36 1129.18V1157.89M1030.86 1129.18H1039.86M1030.86 1157.89H1039.86" stroke="#0E8546" stroke-width="1.5" fill="none"/>
<path d="M1125.49 1154.86V1175.01M1120.99 1154.86H1129.99M1120.99 1175.01H1129.99" stroke="#0E8546" stroke-width="1.5" fill="none"/>
<path d="M1216.12 1173.75V1194.39M1211.62 1173.75H1220.63M1211.62 1194.39H1220.63" stroke="#0E8546" stroke-width="1.5" fill="none"/>
<path d="M854.59 1229.39L899.91 1115.34L944.97 1112.32L1035.36 1143.53L1125.49 1164.93L1216.12 1184.07" stroke="#0E8546" stroke-width="1.55" fill="none" stroke-linejoin="round"/>
<circle cx="854.59" cy="1229.39" r="5.17" fill="#0E8546"/>
<circle cx="899.91" cy="1115.34" r="5.17" fill="#0E8546"/>
<circle cx="944.97" cy="1112.32" r="5.17" fill="#0E8546"/>
<circle cx="1035.36" cy="1143.53" r="5.17" fill="#0E8546"/>
<circle cx="1125.49" cy="1164.93" r="5.17" fill="#0E8546"/>
<circle cx="1216.12" cy="1184.07" r="5.17" fill="#0E8546"/>
<path d="M854.59 1222.34V1237.44M850.09 1222.34H859.09M850.09 1237.44H859.09" stroke="#000000" stroke-width="1.5" fill="none"/>
<path d="M899.91 1125.41V1157.13M895.41 1125.41H904.41M895.41 1157.13H904.41" stroke="#000000" stroke-width="1.5" fill="none"/>
<path d="M944.97 1141.27V1166.45M940.47 1141.27H949.48M940.47 1166.45H949.48" stroke="#000000" stroke-width="1.5" fill="none"/>
<path d="M1035.36 1171.73V1194.39M1030.86 1171.73H1039.86M1030.86 1194.39H1039.86" stroke="#000000" stroke-width="1.5" fill="none"/>
<path d="M1125.49 1182.56V1201.69M1120.99 1182.56H1129.99M1120.99 1201.69H1129.99" stroke="#000000" stroke-width="1.5" fill="none"/>
<path d="M1216.12 1192.88V1209.5M1211.62 1192.88H1220.63M1211.62 1209.5H1220.63" stroke="#000000" stroke-width="1.5" fill="none"/>
<path d="M854.59 1229.89L899.91 1141.27L944.97 1153.86L1035.36 1183.06L1125.49 1192.12L1216.12 1201.19" stroke="#000000" stroke-width="1.55" fill="none" stroke-linejoin="round"/>
<circle cx="854.59" cy="1229.89" r="5.17" fill="#000000"/>
<circle cx="899.91" cy="1141.27" r="5.17" fill="#000000"/>
<circle cx="944.97" cy="1153.86" r="5.17" fill="#000000"/>
<circle cx="1035.36" cy="1183.06" r="5.17" fill="#000000"/>
<circle cx="1125.49" cy="1192.12" r="5.17" fill="#000000"/>
<circle cx="1216.12" cy="1201.19" r="5.17" fill="#000000"/>
<line x1="883.88" y1="1260.9" x2="914.92" y2="1260.9" stroke="#000000" stroke-width="1.55" stroke-linecap="round"/>
<circle cx="899.4" cy="1260.9" r="5.17" fill="#000000"/>
<text x="931.7" y="1268.87" font-size="22.15">βSENP1-WT</text>
<line x1="883.88" y1="1289.8" x2="914.92" y2="1289.8" stroke="#0E8546" stroke-width="1.55" stroke-linecap="round"/>
<circle cx="899.4" cy="1289.8" r="5.17" fill="#0E8546"/>
<text x="931.7" y="1297.77" font-size="22.15">βSENP1-KO</text>
<text x="944.7" y="1103.95" font-size="36" text-anchor="middle" stroke="#000" stroke-width="0.5">*</text>
</g>
<g>
<rect x="1349.4" y="1151.1" width="40.8" height="119.8" fill="#060606"/>
<path d="M1369.8 1130.5V1151.1M1360.3 1130.5H1379.3" stroke="#060606" stroke-width="1.5" fill="none"/>
<rect x="1410.8" y="1129.2" width="41" height="141.7" fill="#14532D"/>
<path d="M1431.3 1106.6V1129.2M1421.8 1106.6H1440.8" stroke="#14532D" stroke-width="1.5" fill="none"/>
<path d="M1329 1054.15V1270.9M1317.47 1270.9H1473M1317.47 1198.9H1329M1317.47 1126.9H1329M1317.47 1054.9H1329M1369.8 1270.9V1282.43M1431.3 1270.9V1282.43" stroke="#000" stroke-width="1.5" fill="none"/>
<text x="1314.11" y="1278.04" font-size="21.62" text-anchor="end">0</text>
<text x="1314.11" y="1206.04" font-size="21.62" text-anchor="end">1000</text>
<text x="1314.11" y="1134.04" font-size="21.62" text-anchor="end">2000</text>
<text x="1314.11" y="1062.04" font-size="21.62" text-anchor="end">3000</text>
<text x="1252" y="1163.5" font-size="21.83" text-anchor="middle" transform="rotate(-90 1252 1163.5)">AUC (mM•min)</text>
<circle cx="1353.68" cy="1132.11" r="4.39" fill="#808080" stroke="#000" stroke-width="1.3"/>
<circle cx="1370.02" cy="1128.75" r="4.39" fill="#808080" stroke="#000" stroke-width="1.3"/>
<circle cx="1386.14" cy="1133.68" r="4.39" fill="#808080" stroke="#000" stroke-width="1.3"/>
<circle cx="1353.68" cy="1142.63" r="4.39" fill="#808080" stroke="#000" stroke-width="1.3"/>
<circle cx="1370.02" cy="1139.95" r="4.39" fill="#808080" stroke="#000" stroke-width="1.3"/>
<circle cx="1386.14" cy="1146.66" r="4.39" fill="#808080" stroke="#000" stroke-width="1.3"/>
<circle cx="1370.02" cy="1154.5" r="4.39" fill="#808080" stroke="#000" stroke-width="1.3"/>
<circle cx="1361.51" cy="1171.74" r="4.39" fill="#808080" stroke="#000" stroke-width="1.3"/>
<circle cx="1377.86" cy="1171.74" r="4.39" fill="#808080" stroke="#000" stroke-width="1.3"/>
<circle cx="1370.02" cy="1189.21" r="4.39" fill="#808080" stroke="#000" stroke-width="1.3"/>
<text x="1378" y="1300.93" font-size="21.83" text-anchor="end" transform="rotate(-45 1378 1300.93)">βSENP1-WT</text>
<circle cx="1426" cy="1097.85" r="4.39" fill="#2FA754" stroke="#14532D" stroke-width="1.3"/>
<circle cx="1436.75" cy="1096.73" r="4.39" fill="#2FA754" stroke="#14532D" stroke-width="1.3"/>
<circle cx="1414.81" cy="1119.35" r="4.39" fill="#2FA754" stroke="#14532D" stroke-width="1.3"/>
<circle cx="1426" cy="1119.35" r="4.39" fill="#2FA754" stroke="#14532D" stroke-width="1.3"/>
<circle cx="1436.75" cy="1112.63" r="4.39" fill="#2FA754" stroke="#14532D" stroke-width="1.3"/>
<circle cx="1447.72" cy="1119.35" r="4.39" fill="#2FA754" stroke="#14532D" stroke-width="1.3"/>
<circle cx="1436.75" cy="1123.6" r="4.39" fill="#2FA754" stroke="#14532D" stroke-width="1.3"/>
<circle cx="1426" cy="1131.66" r="4.39" fill="#2FA754" stroke="#14532D" stroke-width="1.3"/>
<circle cx="1414.81" cy="1155.62" r="4.39" fill="#2FA754" stroke="#14532D" stroke-width="1.3"/>
<circle cx="1426" cy="1155.62" r="4.39" fill="#2FA754" stroke="#14532D" stroke-width="1.3"/>
<circle cx="1436.75" cy="1155.62" r="4.39" fill="#2FA754" stroke="#14532D" stroke-width="1.3"/>
<circle cx="1447.72" cy="1155.62" r="4.39" fill="#2FA754" stroke="#14532D" stroke-width="1.3"/>
<text x="1439.5" y="1300.93" font-size="21.83" text-anchor="end" transform="rotate(-45 1439.5 1300.93)">βSENP1-KO</text>
<path d="M1369.6 1114.2V1071.2H1430V1084.6" stroke="#000" stroke-width="1.5" fill="none" stroke-linejoin="round"/>
<text x="1399.1" y="1078.05" font-size="36" text-anchor="middle" stroke="#000" stroke-width="0.5">*</text>
</g>
<g>
<text x="1537.1" y="1014.6" font-size="48.6">I</text>
<text x="1598" y="1015.1" font-size="28" font-weight="bold">2-day HFD</text>
<text x="1634.5" y="1057.7" font-size="21.1" font-style="italic">(1 g/kg IPGTT )</text>
<path d="M1628.5 1056.45V1335.8M1621 1335.8H1977.95M1621 1242.93H1628.5M1621 1150.07H1628.5M1621 1057.2H1628.5M1628.5 1335.8V1343.3M1803.1 1335.8V1343.3M1977.2 1335.8V1343.3" stroke="#000" stroke-width="1.5" fill="none"/>
<text x="1618.4" y="1343.1" font-size="21.2" text-anchor="end">0</text>
<text x="1618.4" y="1250.23" font-size="21.2" text-anchor="end">1</text>
<text x="1618.4" y="1157.37" font-size="21.2" text-anchor="end">2</text>
<text x="1618.4" y="1064.5" font-size="21.2" text-anchor="end">3</text>
<text x="1628.5" y="1366" font-size="21.2" text-anchor="middle">0</text>
<text x="1803.1" y="1366" font-size="21.2" text-anchor="middle">15</text>
<text x="1977.2" y="1366" font-size="21.2" text-anchor="middle">30</text>
<text x="1591.4" y="1197" font-size="22.7" text-anchor="middle" transform="rotate(-90 1591.4 1197)">Plasma Insulin (Fold)</text>
<text x="1803.1" y="1392.7" font-size="21.9" text-anchor="middle">Time (min)</text>
<path d="M1803.08 1229.57V1241.6M1798.73 1229.57H1807.43M1798.73 1241.6H1807.43" stroke="#0E8546" stroke-width="1.5" fill="none"/>
<path d="M1977.2 1215.54V1233.08M1972.85 1215.54H1981.55M1972.85 1233.08H1981.55" stroke="#0E8546" stroke-width="1.5" fill="none"/>
<path d="M1628.46 1243.1L1803.08 1235.59L1977.2 1224.31" stroke="#0E8546" stroke-width="1.55" fill="none" stroke-linejoin="round"/>
<circle cx="1628.46" cy="1243.1" r="5" fill="#0E8546"/>
<circle cx="1803.08" cy="1235.59" r="5" fill="#0E8546"/>
<circle cx="1977.2" cy="1224.31" r="5" fill="#0E8546"/>
<path d="M1803.08 1078.25V1182.47M1798.73 1078.25H1807.43M1798.73 1182.47H1807.43" stroke="#000000" stroke-width="1.5" fill="none"/>
<path d="M1977.2 1189.99V1213.54M1972.85 1189.99H1981.55M1972.85 1213.54H1981.55" stroke="#000000" stroke-width="1.5" fill="none"/>
<path d="M1628.46 1243.1L1803.08 1130.36L1977.2 1201.76" stroke="#000000" stroke-width="1.55" fill="none" stroke-linejoin="round"/>
<circle cx="1628.46" cy="1243.1" r="5" fill="#000000"/>
<circle cx="1803.08" cy="1130.36" r="5" fill="#000000"/>
<circle cx="1977.2" cy="1201.76" r="5" fill="#000000"/>
<line x1="1658.6" y1="1284.9" x2="1688.6" y2="1284.9" stroke="#000000" stroke-width="1.55" stroke-linecap="round"/>
<circle cx="1673.6" cy="1284.9" r="5" fill="#000000"/>
<text x="1705.4" y="1292.6" font-size="21.4">βSENP1-WT</text>
<line x1="1658.6" y1="1309.5" x2="1688.6" y2="1309.5" stroke="#0E8546" stroke-width="1.55" stroke-linecap="round"/>
<circle cx="1673.6" cy="1309.5" r="5" fill="#0E8546"/>
<text x="1705.4" y="1317.2" font-size="21.4">βSENP1-KO</text>
<text x="1802.6" y="1076.51" font-size="33" text-anchor="middle" stroke="#000" stroke-width="0.5">**</text>
</g>
<g>
<text x="0.2" y="1501.7" font-size="48.6">J</text>
<text x="62" y="1509.4" font-size="28" font-weight="bold">Chow Diet</text>
<text x="87.5" y="1542.3" font-size="21.1" font-style="italic">(1 g/kg OGTT )</text>
<path d="M82.3 1537.05V1817.5M74.3 1817.5H433.25M74.3 1761.56H82.3M74.3 1705.62H82.3M74.3 1649.68H82.3M74.3 1593.74H82.3M74.3 1537.8H82.3M82.3 1817.5V1825.5M169.9 1817.5V1825.5M257.3 1817.5V1825.5M344.9 1817.5V1825.5M432.5 1817.5V1825.5" stroke="#000" stroke-width="1.5" fill="none"/>
<text x="71.7" y="1824.8" font-size="21.2" text-anchor="end">0</text>
<text x="71.7" y="1768.86" font-size="21.2" text-anchor="end">5</text>
<text x="71.7" y="1712.92" font-size="21.2" text-anchor="end">10</text>
<text x="71.7" y="1656.98" font-size="21.2" text-anchor="end">15</text>
<text x="71.7" y="1601.04" font-size="21.2" text-anchor="end">20</text>
<text x="71.7" y="1545.1" font-size="21.2" text-anchor="end">25</text>
<text x="82.3" y="1848.2" font-size="21.2" text-anchor="middle">0</text>
<text x="169.9" y="1848.2" font-size="21.2" text-anchor="middle">30</text>
<text x="257.3" y="1848.2" font-size="21.2" text-anchor="middle">60</text>
<text x="344.9" y="1848.2" font-size="21.2" text-anchor="middle">90</text>
<text x="432.5" y="1848.2" font-size="21.2" text-anchor="middle">120</text>
<text x="32.7" y="1678.3" font-size="21.4" text-anchor="middle" transform="rotate(-90 32.7 1678.3)">Glucose (mM)</text>
<text x="257.3" y="1875.2" font-size="21.4" text-anchor="middle">Time (min)</text>
<path d="M82.33 1697.95V1713.06M77.98 1697.95H86.68M77.98 1713.06H86.68" stroke="#0E8546" stroke-width="1.5" fill="none"/>
<path d="M125.88 1612.86V1630.48M121.53 1612.86H130.23M121.53 1630.48H130.23" stroke="#0E8546" stroke-width="1.5" fill="none"/>
<path d="M169.94 1663.21V1688.39M165.59 1663.21H174.29M165.59 1688.39H174.29" stroke="#0E8546" stroke-width="1.5" fill="none"/>
<path d="M257.3 1675.55V1702.23M252.95 1675.55H261.65M252.95 1702.23H261.65" stroke="#0E8546" stroke-width="1.5" fill="none"/>
<path d="M344.91 1674.54V1699.72M340.56 1674.54H349.26M340.56 1699.72H349.26" stroke="#0E8546" stroke-width="1.5" fill="none"/>
<path d="M432.53 1684.61V1703.24M428.18 1684.61H436.88M428.18 1703.24H436.88" stroke="#0E8546" stroke-width="1.5" fill="none"/>
<path d="M82.33 1705.51L125.88 1621.67L169.94 1675.8L257.3 1688.89L344.91 1687.13L432.53 1693.92" stroke="#0E8546" stroke-width="1.55" fill="none" stroke-linejoin="round"/>
<circle cx="82.33" cy="1705.51" r="5" fill="#0E8546"/>
<circle cx="125.88" cy="1621.67" r="5" fill="#0E8546"/>
<circle cx="169.94" cy="1675.8" r="5" fill="#0E8546"/>
<circle cx="257.3" cy="1688.89" r="5" fill="#0E8546"/>
<circle cx="344.91" cy="1687.13" r="5" fill="#0E8546"/>
<circle cx="432.53" cy="1693.92" r="5" fill="#0E8546"/>
<path d="M82.33 1699.46V1713.56M77.98 1699.46H86.68M77.98 1713.56H86.68" stroke="#000000" stroke-width="1.5" fill="none"/>
<path d="M125.88 1610.34V1645.59M121.53 1610.34H130.23M121.53 1645.59H130.23" stroke="#000000" stroke-width="1.5" fill="none"/>
<path d="M169.94 1637.78V1677.06M165.59 1637.78H174.29M165.59 1677.06H174.29" stroke="#000000" stroke-width="1.5" fill="none"/>
<path d="M257.3 1644.33V1707.27M252.95 1644.33H261.65M252.95 1707.27H261.65" stroke="#000000" stroke-width="1.5" fill="none"/>
<path d="M344.91 1671.01V1710.79M340.56 1671.01H349.26M340.56 1710.79H349.26" stroke="#000000" stroke-width="1.5" fill="none"/>
<path d="M432.53 1682.6V1710.79M428.18 1682.6H436.88M428.18 1710.79H436.88" stroke="#000000" stroke-width="1.5" fill="none"/>
<path d="M82.33 1706.51L125.88 1627.96L169.94 1657.42L257.3 1675.8L344.91 1690.9L432.53 1696.69" stroke="#000000" stroke-width="1.55" fill="none" stroke-linejoin="round"/>
<circle cx="82.33" cy="1706.51" r="5" fill="#000000"/>
<circle cx="125.88" cy="1627.96" r="5" fill="#000000"/>
<circle cx="169.94" cy="1657.42" r="5" fill="#000000"/>
<circle cx="257.3" cy="1675.8" r="5" fill="#000000"/>
<circle cx="344.91" cy="1690.9" r="5" fill="#000000"/>
<circle cx="432.53" cy="1696.69" r="5" fill="#000000"/>
<line x1="110.1" y1="1740.7" x2="140.1" y2="1740.7" stroke="#000000" stroke-width="1.55" stroke-linecap="round"/>
<circle cx="125.1" cy="1740.7" r="5" fill="#000000"/>
<text x="156.7" y="1748.4" font-size="21.4">βSENP1-WT</text>
<line x1="110.1" y1="1768.9" x2="140.1" y2="1768.9" stroke="#0E8546" stroke-width="1.55" stroke-linecap="round"/>
<circle cx="125.1" cy="1768.9" r="5" fill="#0E8546"/>
<text x="156.7" y="1776.6" font-size="21.4">βSENP1-KO</text>
</g>
<g>
<rect x="582.9" y="1634.2" width="39.6" height="106.4" fill="#060606"/>
<path d="M602.7 1604V1634.2M593.2 1604H612.2" stroke="#060606" stroke-width="1.5" fill="none"/>
<rect x="642.2" y="1637.4" width="39.6" height="103.2" fill="#14532D"/>
<path d="M662 1620.8V1637.4M652.5 1620.8H671.5" stroke="#14532D" stroke-width="1.5" fill="none"/>
<path d="M562.5 1529.65V1740.6M551.2 1740.6H702.7M551.2 1670.53H562.5M551.2 1600.47H562.5M551.2 1530.4H562.5M602.7 1740.6V1751.9M662 1740.6V1751.9" stroke="#000" stroke-width="1.5" fill="none"/>
<text x="547.9" y="1747.6" font-size="21.2" text-anchor="end">0</text>
<text x="547.9" y="1677.53" font-size="21.2" text-anchor="end">1000</text>
<text x="547.9" y="1607.47" font-size="21.2" text-anchor="end">2000</text>
<text x="547.9" y="1537.4" font-size="21.2" text-anchor="end">3000</text>
<text x="487.5" y="1636.4" font-size="21.4" text-anchor="middle" transform="rotate(-90 487.5 1636.4)">AUC (mM•min)</text>
<circle cx="602.56" cy="1595.06" r="4.3" fill="#808080" stroke="#000" stroke-width="1.3"/>
<circle cx="594.05" cy="1632.46" r="4.3" fill="#808080" stroke="#000" stroke-width="1.3"/>
<circle cx="610.85" cy="1640.74" r="4.3" fill="#808080" stroke="#000" stroke-width="1.3"/>
<circle cx="602.56" cy="1666.72" r="4.3" fill="#808080" stroke="#000" stroke-width="1.3"/>
<text x="610.9" y="1770.4" font-size="21.4" text-anchor="end" transform="rotate(-45 610.9 1770.4)">βSENP1-WT</text>
<circle cx="662.12" cy="1616.11" r="4.3" fill="#2FA754" stroke="#14532D" stroke-width="1.3"/>
<circle cx="653.61" cy="1635.37" r="4.3" fill="#2FA754" stroke="#14532D" stroke-width="1.3"/>
<circle cx="670.63" cy="1640.97" r="4.3" fill="#2FA754" stroke="#14532D" stroke-width="1.3"/>
<circle cx="662.12" cy="1655.52" r="4.3" fill="#2FA754" stroke="#14532D" stroke-width="1.3"/>
<text x="670.2" y="1770.4" font-size="21.4" text-anchor="end" transform="rotate(-45 670.2 1770.4)">βSENP1-KO</text>
</g>
<g>
<text x="777.7" y="1500.7" font-size="48.6">K</text>
<text x="841" y="1509.4" font-size="28" font-weight="bold">4-week HFD</text>
<text x="859" y="1545.7" font-size="21.1" font-style="italic">(0.5 g/kg OGTT)</text>
<path d="M852.6 1542.15V1823.3M844.6 1823.3H1203.75M844.6 1767.22H852.6M844.6 1711.14H852.6M844.6 1655.06H852.6M844.6 1598.98H852.6M844.6 1542.9H852.6M852.6 1823.3V1831.3M940.2 1823.3V1831.3M1027.8 1823.3V1831.3M1115.2 1823.3V1831.3M1203 1823.3V1831.3" stroke="#000" stroke-width="1.5" fill="none"/>
<text x="842" y="1830.6" font-size="21.2" text-anchor="end">0</text>
<text x="842" y="1774.52" font-size="21.2" text-anchor="end">5</text>
<text x="842" y="1718.44" font-size="21.2" text-anchor="end">10</text>
<text x="842" y="1662.36" font-size="21.2" text-anchor="end">15</text>
<text x="842" y="1606.28" font-size="21.2" text-anchor="end">20</text>
<text x="842" y="1550.2" font-size="21.2" text-anchor="end">25</text>
<text x="852.6" y="1854" font-size="21.2" text-anchor="middle">0</text>
<text x="940.2" y="1854" font-size="21.2" text-anchor="middle">30</text>
<text x="1027.8" y="1854" font-size="21.2" text-anchor="middle">60</text>
<text x="1115.2" y="1854" font-size="21.2" text-anchor="middle">90</text>
<text x="1203" y="1854" font-size="21.2" text-anchor="middle">120</text>
<text x="802.7" y="1683.4" font-size="21.4" text-anchor="middle" transform="rotate(-90 802.7 1683.4)">Glucose (mM)</text>
<text x="1027.8" y="1881" font-size="21.4" text-anchor="middle">Time (min)</text>
<path d="M852.58 1674.54V1688.64M848.23 1674.54H856.93M848.23 1688.64H856.93" stroke="#0E8546" stroke-width="1.5" fill="none"/>
<path d="M896.38 1599.01V1620.66M892.03 1599.01H900.73M892.03 1620.66H900.73" stroke="#0E8546" stroke-width="1.5" fill="none"/>
<path d="M940.19 1576.6V1614.87M935.84 1576.6H944.54M935.84 1614.87H944.54" stroke="#0E8546" stroke-width="1.5" fill="none"/>
<path d="M1027.8 1595.23V1645.59M1023.45 1595.23H1032.15M1023.45 1645.59H1032.15" stroke="#0E8546" stroke-width="1.5" fill="none"/>
<path d="M1115.17 1596.74V1644.58M1110.82 1596.74H1119.52M1110.82 1644.58H1119.52" stroke="#0E8546" stroke-width="1.5" fill="none"/>
<path d="M1203.03 1611.6V1655.4M1198.68 1611.6H1207.38M1198.68 1655.4H1207.38" stroke="#0E8546" stroke-width="1.5" fill="none"/>
<path d="M852.58 1681.59L896.38 1609.84L940.19 1595.74L1027.8 1620.41L1115.17 1620.66L1203.03 1633.5" stroke="#0E8546" stroke-width="1.55" fill="none" stroke-linejoin="round"/>
<circle cx="852.58" cy="1681.59" r="5" fill="#0E8546"/>
<circle cx="896.38" cy="1609.84" r="5" fill="#0E8546"/>
<circle cx="940.19" cy="1595.74" r="5" fill="#0E8546"/>
<circle cx="1027.8" cy="1620.41" r="5" fill="#0E8546"/>
<circle cx="1115.17" cy="1620.66" r="5" fill="#0E8546"/>
<circle cx="1203.03" cy="1633.5" r="5" fill="#0E8546"/>
<path d="M852.58 1685.11V1697.7M848.23 1685.11H856.93M848.23 1697.7H856.93" stroke="#000000" stroke-width="1.5" fill="none"/>
<path d="M896.38 1633V1652.13M892.03 1633H900.73M892.03 1652.13H900.73" stroke="#000000" stroke-width="1.5" fill="none"/>
<path d="M940.19 1645.33V1663.46M935.84 1645.33H944.54M935.84 1663.46H944.54" stroke="#000000" stroke-width="1.5" fill="none"/>
<path d="M1027.8 1656.92V1677.06M1023.45 1656.92H1032.15M1023.45 1677.06H1032.15" stroke="#000000" stroke-width="1.5" fill="none"/>
<path d="M1115.17 1670.26V1680.33M1110.82 1670.26H1119.52M1110.82 1680.33H1119.52" stroke="#000000" stroke-width="1.5" fill="none"/>
<path d="M1203.03 1678.32V1693.42M1198.68 1678.32H1207.38M1198.68 1693.42H1207.38" stroke="#000000" stroke-width="1.5" fill="none"/>
<path d="M852.58 1691.41L896.38 1642.56L940.19 1654.4L1027.8 1666.99L1115.17 1675.29L1203.03 1685.87" stroke="#000000" stroke-width="1.55" fill="none" stroke-linejoin="round"/>
<circle cx="852.58" cy="1691.41" r="5" fill="#000000"/>
<circle cx="896.38" cy="1642.56" r="5" fill="#000000"/>
<circle cx="940.19" cy="1654.4" r="5" fill="#000000"/>
<circle cx="1027.8" cy="1666.99" r="5" fill="#000000"/>
<circle cx="1115.17" cy="1675.29" r="5" fill="#000000"/>
<circle cx="1203.03" cy="1685.87" r="5" fill="#000000"/>
<line x1="892.5" y1="1753.3" x2="922.5" y2="1753.3" stroke="#000000" stroke-width="1.55" stroke-linecap="round"/>
<circle cx="907.5" cy="1753.3" r="5" fill="#000000"/>
<text x="938.7" y="1761" font-size="21.4">βSENP1-WT</text>
<line x1="892.5" y1="1780.8" x2="922.5" y2="1780.8" stroke="#0E8546" stroke-width="1.55" stroke-linecap="round"/>
<circle cx="907.5" cy="1780.8" r="5" fill="#0E8546"/>
<text x="938.7" y="1788.5" font-size="21.4">βSENP1-KO</text>
<text x="940.2" y="1583.45" font-size="36" text-anchor="middle" stroke="#000" stroke-width="0.5">*</text>
<text x="1114.9" y="1603.65" font-size="36" text-anchor="middle" stroke="#000" stroke-width="0.5">*</text>
<text x="1203.5" y="1617.45" font-size="36" text-anchor="middle" stroke="#000" stroke-width="0.5">*</text>
</g>
<g>
<rect x="1352.8" y="1649.2" width="39.6" height="87.2" fill="#060606"/>
<path d="M1372.6 1635.8V1649.2M1363.1 1635.8H1382.1" stroke="#060606" stroke-width="1.5" fill="none"/>
<rect x="1412.1" y="1622.4" width="39.9" height="114" fill="#14532D"/>
<path d="M1432.05 1585.4V1622.4M1422.55 1585.4H1441.55" stroke="#14532D" stroke-width="1.5" fill="none"/>
<path d="M1332.6 1526.05V1736.4M1321.3 1736.4H1473M1321.3 1684H1332.6M1321.3 1631.6H1332.6M1321.3 1579.2H1332.6M1321.3 1526.8H1332.6M1372.6 1736.4V1747.7M1432.05 1736.4V1747.7" stroke="#000" stroke-width="1.5" fill="none"/>
<text x="1318" y="1743.4" font-size="21.2" text-anchor="end">0</text>
<text x="1318" y="1691" font-size="21.2" text-anchor="end">1000</text>
<text x="1318" y="1638.6" font-size="21.2" text-anchor="end">2000</text>
<text x="1318" y="1586.2" font-size="21.2" text-anchor="end">3000</text>
<text x="1318" y="1533.8" font-size="21.2" text-anchor="end">4000</text>
<text x="1256.9" y="1631.8" font-size="21.4" text-anchor="middle" transform="rotate(-90 1256.9 1631.8)">AUC (mM•min)</text>
<circle cx="1372.26" cy="1615.66" r="4.3" fill="#808080" stroke="#000" stroke-width="1.3"/>
<circle cx="1375.62" cy="1635.37" r="4.3" fill="#808080" stroke="#000" stroke-width="1.3"/>
<circle cx="1368.9" cy="1637.38" r="4.3" fill="#808080" stroke="#000" stroke-width="1.3"/>
<circle cx="1362.19" cy="1644.32" r="4.3" fill="#808080" stroke="#000" stroke-width="1.3"/>
<circle cx="1355.47" cy="1648.13" r="4.3" fill="#808080" stroke="#000" stroke-width="1.3"/>
<circle cx="1368.9" cy="1649.92" r="4.3" fill="#808080" stroke="#000" stroke-width="1.3"/>
<circle cx="1387.94" cy="1648.13" r="4.3" fill="#808080" stroke="#000" stroke-width="1.3"/>
<circle cx="1362.19" cy="1654.4" r="4.3" fill="#808080" stroke="#000" stroke-width="1.3"/>
<circle cx="1356.14" cy="1660.89" r="4.3" fill="#808080" stroke="#000" stroke-width="1.3"/>
<circle cx="1368.9" cy="1660.45" r="4.3" fill="#808080" stroke="#000" stroke-width="1.3"/>
<circle cx="1375.62" cy="1660.45" r="4.3" fill="#808080" stroke="#000" stroke-width="1.3"/>
<circle cx="1381.67" cy="1661.57" r="4.3" fill="#808080" stroke="#000" stroke-width="1.3"/>
<circle cx="1388.38" cy="1660.45" r="4.3" fill="#808080" stroke="#000" stroke-width="1.3"/>
<text x="1380.8" y="1766.2" font-size="21.4" text-anchor="end" transform="rotate(-45 1380.8 1766.2)">βSENP1-WT</text>
<circle cx="1432.27" cy="1550.06" r="4.3" fill="#2FA754" stroke="#14532D" stroke-width="1.3"/>
<circle cx="1432.27" cy="1573.12" r="4.3" fill="#2FA754" stroke="#14532D" stroke-width="1.3"/>
<circle cx="1432.27" cy="1609.39" r="4.3" fill="#2FA754" stroke="#14532D" stroke-width="1.3"/>
<circle cx="1447.94" cy="1609.39" r="4.3" fill="#2FA754" stroke="#14532D" stroke-width="1.3"/>
<circle cx="1416.6" cy="1613.42" r="4.3" fill="#2FA754" stroke="#14532D" stroke-width="1.3"/>
<circle cx="1447.94" cy="1631.34" r="4.3" fill="#2FA754" stroke="#14532D" stroke-width="1.3"/>
<circle cx="1432.27" cy="1636.49" r="4.3" fill="#2FA754" stroke="#14532D" stroke-width="1.3"/>
<circle cx="1416.6" cy="1645.44" r="4.3" fill="#2FA754" stroke="#14532D" stroke-width="1.3"/>
<circle cx="1447.94" cy="1645.44" r="4.3" fill="#2FA754" stroke="#14532D" stroke-width="1.3"/>
<circle cx="1432.27" cy="1648.13" r="4.3" fill="#2FA754" stroke="#14532D" stroke-width="1.3"/>
<circle cx="1432.27" cy="1682.39" r="4.3" fill="#2FA754" stroke="#14532D" stroke-width="1.3"/>
<text x="1440.25" y="1766.2" font-size="21.4" text-anchor="end" transform="rotate(-45 1440.25 1766.2)">βSENP1-KO</text>
<path d="M1372.3 1597.7V1516.7H1432.3V1536.2" stroke="#000" stroke-width="1.5" fill="none" stroke-linejoin="round"/>
<text x="1405.2" y="1522.15" font-size="36" text-anchor="middle" stroke="#000" stroke-width="0.5">*</text>
</g>
<g>
<text x="1536.2" y="1501.3" font-size="48.6">L</text>
<text x="1598" y="1504.8" font-size="28" font-weight="bold">4-week HFD</text>
<text x="1643.5" y="1537.5" font-size="21.1" font-style="italic">(0.5 g/kg OGTT )</text>
<path d="M1636.5 1536.05V1818.1M1629 1818.1H1988.95M1629 1747.77H1636.5M1629 1677.45H1636.5M1629 1607.12H1636.5M1629 1536.8H1636.5M1636.5 1818.1V1825.6M1753.5 1818.1V1825.6M1870.7 1818.1V1825.6M1988.2 1818.1V1825.6" stroke="#000" stroke-width="1.5" fill="none"/>
<text x="1626.4" y="1825.4" font-size="21.2" text-anchor="end">0.0</text>
<text x="1626.4" y="1755.07" font-size="21.2" text-anchor="end">0.5</text>
<text x="1626.4" y="1684.75" font-size="21.2" text-anchor="end">1.0</text>
<text x="1626.4" y="1614.42" font-size="21.2" text-anchor="end">1.5</text>
<text x="1626.4" y="1544.1" font-size="21.2" text-anchor="end">2.0</text>
<text x="1636.5" y="1848.3" font-size="21.2" text-anchor="middle">0</text>
<text x="1753.5" y="1848.3" font-size="21.2" text-anchor="middle">10</text>
<text x="1870.7" y="1848.3" font-size="21.2" text-anchor="middle">20</text>
<text x="1988.2" y="1848.3" font-size="21.2" text-anchor="middle">30</text>
<text x="1581.4" y="1677" font-size="22.9" text-anchor="middle" transform="rotate(-90 1581.4 1677)">Plasma Insulin (Fold)</text>
<text x="1812.6" y="1875" font-size="22.1" text-anchor="middle">Time (min)</text>
<path d="M1812.6 1686.57V1712.62M1808.25 1686.57H1816.95M1808.25 1712.62H1816.95" stroke="#0E8546" stroke-width="1.5" fill="none"/>
<path d="M1988.22 1698.34V1724.9M1983.87 1698.34H1992.57M1983.87 1724.9H1992.57" stroke="#0E8546" stroke-width="1.5" fill="none"/>
<path d="M1636.48 1677.8L1812.6 1699.6L1988.22 1711.62" stroke="#0E8546" stroke-width="1.55" fill="none" stroke-linejoin="round"/>
<circle cx="1636.48" cy="1677.8" r="5" fill="#0E8546"/>
<circle cx="1812.6" cy="1699.6" r="5" fill="#0E8546"/>
<circle cx="1988.22" cy="1711.62" r="5" fill="#0E8546"/>
<path d="M1812.6 1561.05V1658.76M1808.25 1561.05H1816.95M1808.25 1658.76H1816.95" stroke="#000000" stroke-width="1.5" fill="none"/>
<path d="M1988.22 1658.26V1693.33M1983.87 1658.26H1992.57M1983.87 1693.33H1992.57" stroke="#000000" stroke-width="1.5" fill="none"/>
<path d="M1636.48 1677.8L1812.6 1609.91L1988.22 1675.8" stroke="#000000" stroke-width="1.55" fill="none" stroke-linejoin="round"/>
<circle cx="1636.48" cy="1677.8" r="5" fill="#000000"/>
<circle cx="1812.6" cy="1609.91" r="5" fill="#000000"/>
<circle cx="1988.22" cy="1675.8" r="5" fill="#000000"/>
<line x1="1657.3" y1="1761.5" x2="1687.3" y2="1761.5" stroke="#000000" stroke-width="1.55" stroke-linecap="round"/>
<circle cx="1672.3" cy="1761.5" r="5" fill="#000000"/>
<text x="1704.2" y="1769.2" font-size="21.4">βSENP1-WT</text>
<line x1="1657.3" y1="1787.3" x2="1687.3" y2="1787.3" stroke="#0E8546" stroke-width="1.55" stroke-linecap="round"/>
<circle cx="1672.3" cy="1787.3" r="5" fill="#0E8546"/>
<text x="1704.2" y="1795" font-size="21.4">βSENP1-KO</text>
<text x="1812.6" y="1564.62" font-size="34" text-anchor="middle" stroke="#000" stroke-width="0.5">*</text>
</g>
<g>
<text x="1536.3" y="40.9" font-size="48.6">E</text>
<text x="1620.3" y="34.8" font-size="28" font-weight="bold">2-day HFD</text>
<rect x="1685.7" y="315.9" width="18.2" height="40.7" fill="#A6A4A5"/>
<rect x="1712.6" y="276.6" width="18.2" height="80" fill="#A6A4A5"/>
<rect x="1739.8" y="308.4" width="18.2" height="48.2" fill="#A8C3AF"/>
<rect x="1766.6" y="312.6" width="18.2" height="44" fill="#A8C3AF"/>
<rect x="1809.6" y="285.1" width="18.2" height="71.5" fill="#A6A4A5"/>
<rect x="1836.5" y="287.1" width="18.2" height="69.5" fill="#A6A4A5"/>
<rect x="1863.4" y="324.4" width="18.2" height="32.2" fill="#A8C3AF"/>
<rect x="1890.5" y="327.7" width="18.2" height="28.9" fill="#A8C3AF"/>
<circle cx="1721.53" cy="158.67" r="3.2" fill="#A9ABAE"/>
<circle cx="1721.53" cy="169.4" r="3.2" fill="#A9ABAE"/>
<circle cx="1721.53" cy="177.91" r="3.2" fill="#A9ABAE"/>
<circle cx="1818.16" cy="132.09" r="3.2" fill="#A9ABAE"/>
<circle cx="1818.16" cy="145.97" r="3.2" fill="#A9ABAE"/>
<circle cx="1816.45" cy="166.52" r="3.2" fill="#A9ABAE"/>
<circle cx="1820.38" cy="167.18" r="3.2" fill="#A9ABAE"/>
<circle cx="1818.16" cy="184.46" r="3.2" fill="#A9ABAE"/>
<circle cx="1845.26" cy="173.99" r="3.2" fill="#A9ABAE"/>
<circle cx="1845.26" cy="186.16" r="3.2" fill="#A9ABAE"/>
<circle cx="1694.43" cy="220.29" r="3.2" fill="#A9ABAE"/>
<circle cx="1694.43" cy="240.59" r="3.2" fill="#A9ABAE"/>
<circle cx="1694.43" cy="265.46" r="3.2" fill="#A9ABAE"/>
<circle cx="1694.43" cy="270.7" r="3.2" fill="#A9ABAE"/>
<circle cx="1694.43" cy="281.83" r="3.2" fill="#A9ABAE"/>
<circle cx="1695.35" cy="287.06" r="3.2" fill="#A9ABAE"/>
<circle cx="1690.11" cy="307.36" r="3.2" fill="#A9ABAE"/>
<circle cx="1699.28" cy="312.59" r="3.2" fill="#A9ABAE"/>
<circle cx="1692.73" cy="362.74" r="3.2" fill="#A9ABAE"/>
<circle cx="1696" cy="362.08" r="3.2" fill="#A9ABAE"/>
<circle cx="1721.53" cy="213.09" r="3.2" fill="#A9ABAE"/>
<circle cx="1723.76" cy="228.15" r="3.2" fill="#A9ABAE"/>
<circle cx="1715.64" cy="233.39" r="3.2" fill="#A9ABAE"/>
<circle cx="1719.18" cy="236.66" r="3.2" fill="#A9ABAE"/>
<circle cx="1723.5" cy="237.31" r="3.2" fill="#A9ABAE"/>
<circle cx="1727.43" cy="235.35" r="3.2" fill="#A9ABAE"/>
<circle cx="1719.57" cy="259.57" r="3.2" fill="#A9ABAE"/>
<circle cx="1728.08" cy="272.01" r="3.2" fill="#A9ABAE"/>
<circle cx="1748.5" cy="213.35" r="3.2" fill="#A9ABAE"/>
<circle cx="1751.25" cy="227.49" r="3.2" fill="#A9ABAE"/>
<circle cx="1748.5" cy="231.42" r="3.2" fill="#A9ABAE"/>
<circle cx="1745.76" cy="263.5" r="3.2" fill="#A9ABAE"/>
<circle cx="1749.03" cy="267.43" r="3.2" fill="#A9ABAE"/>
<circle cx="1747.06" cy="274.63" r="3.2" fill="#A9ABAE"/>
<circle cx="1750.34" cy="274.63" r="3.2" fill="#A9ABAE"/>
<circle cx="1749.68" cy="294.27" r="3.2" fill="#A9ABAE"/>
<circle cx="1748.5" cy="363.26" r="3.2" fill="#A9ABAE"/>
<circle cx="1775.21" cy="225.53" r="3.2" fill="#A9ABAE"/>
<circle cx="1775.21" cy="234.04" r="3.2" fill="#A9ABAE"/>
<circle cx="1775.21" cy="239.93" r="3.2" fill="#A9ABAE"/>
<circle cx="1775.21" cy="253.42" r="3.2" fill="#A9ABAE"/>
<circle cx="1775.21" cy="262.84" r="3.2" fill="#A9ABAE"/>
<circle cx="1775.21" cy="274.23" r="3.2" fill="#A9ABAE"/>
<circle cx="1773.9" cy="281.17" r="3.2" fill="#A9ABAE"/>
<circle cx="1777.83" cy="283.79" r="3.2" fill="#A9ABAE"/>
<circle cx="1775.21" cy="293.22" r="3.2" fill="#A9ABAE"/>
<circle cx="1781.76" cy="300.81" r="3.2" fill="#A9ABAE"/>
<circle cx="1777.83" cy="302.78" r="3.2" fill="#A9ABAE"/>
<circle cx="1769.32" cy="303.43" r="3.2" fill="#A9ABAE"/>
<circle cx="1770.63" cy="359.07" r="3.2" fill="#A9ABAE"/>
<circle cx="1781.11" cy="355.8" r="3.2" fill="#A9ABAE"/>
<circle cx="1773.9" cy="363.66" r="3.2" fill="#A9ABAE"/>
<circle cx="1781.76" cy="364.96" r="3.2" fill="#A9ABAE"/>
<circle cx="1775.21" cy="371.12" r="3.2" fill="#A9ABAE"/>
<circle cx="1812.53" cy="217.67" r="3.2" fill="#A9ABAE"/>
<circle cx="1816.45" cy="220.29" r="3.2" fill="#A9ABAE"/>
<circle cx="1820.38" cy="217.67" r="3.2" fill="#A9ABAE"/>
<circle cx="1824.31" cy="222" r="3.2" fill="#A9ABAE"/>
<circle cx="1818.16" cy="229.46" r="3.2" fill="#A9ABAE"/>
<circle cx="1818.16" cy="235.35" r="3.2" fill="#A9ABAE"/>
<circle cx="1814.49" cy="242.55" r="3.2" fill="#A9ABAE"/>
<circle cx="1819.07" cy="242.55" r="3.2" fill="#A9ABAE"/>
<circle cx="1821.69" cy="247.79" r="3.2" fill="#A9ABAE"/>
<circle cx="1818.16" cy="253.68" r="3.2" fill="#A9ABAE"/>
<circle cx="1818.16" cy="257.61" r="3.2" fill="#A9ABAE"/>
<circle cx="1818.16" cy="264.81" r="3.2" fill="#A9ABAE"/>
<circle cx="1812.53" cy="274.63" r="3.2" fill="#A9ABAE"/>
<circle cx="1818.42" cy="272.66" r="3.2" fill="#A9ABAE"/>
<circle cx="1823.66" cy="273.97" r="3.2" fill="#A9ABAE"/>
<circle cx="1812.53" cy="359.73" r="3.2" fill="#A9ABAE"/>
<circle cx="1820.38" cy="357.11" r="3.2" fill="#A9ABAE"/>
<circle cx="1845.26" cy="209.82" r="3.2" fill="#A9ABAE"/>
<circle cx="1843.95" cy="213.09" r="3.2" fill="#A9ABAE"/>
<circle cx="1845.91" cy="216.37" r="3.2" fill="#A9ABAE"/>
<circle cx="1845.26" cy="231.42" r="3.2" fill="#A9ABAE"/>
<circle cx="1846.57" cy="239.93" r="3.2" fill="#A9ABAE"/>
<circle cx="1843.29" cy="242.55" r="3.2" fill="#A9ABAE"/>
<circle cx="1845.26" cy="247.13" r="3.2" fill="#A9ABAE"/>
<circle cx="1845.91" cy="252.37" r="3.2" fill="#A9ABAE"/>
<circle cx="1843.29" cy="258.26" r="3.2" fill="#A9ABAE"/>
<circle cx="1846.57" cy="257.61" r="3.2" fill="#A9ABAE"/>
<circle cx="1845.26" cy="264.15" r="3.2" fill="#A9ABAE"/>
<circle cx="1845.26" cy="269.39" r="3.2" fill="#A9ABAE"/>
<circle cx="1845.26" cy="367.32" r="3.2" fill="#A9ABAE"/>
<circle cx="1872.1" cy="248.7" r="3.2" fill="#A9ABAE"/>
<circle cx="1872.1" cy="266.51" r="3.2" fill="#A9ABAE"/>
<circle cx="1872.1" cy="281.57" r="3.2" fill="#A9ABAE"/>
<circle cx="1866.86" cy="306.7" r="3.2" fill="#A9ABAE"/>
<circle cx="1877.99" cy="303.69" r="3.2" fill="#A9ABAE"/>
<circle cx="1870.4" cy="362.35" r="3.2" fill="#A9ABAE"/>
<circle cx="1874.72" cy="357.11" r="3.2" fill="#A9ABAE"/>
<circle cx="1896.32" cy="293.22" r="3.2" fill="#A9ABAE"/>
<circle cx="1902.21" cy="295.57" r="3.2" fill="#A9ABAE"/>
<circle cx="1899.59" cy="300.16" r="3.2" fill="#A9ABAE"/>
<circle cx="1893.7" cy="312.33" r="3.2" fill="#A9ABAE"/>
<circle cx="1904.83" cy="311.29" r="3.2" fill="#A9ABAE"/>
<circle cx="1896.97" cy="315.87" r="3.2" fill="#A9ABAE"/>
<circle cx="1900.9" cy="313.9" r="3.2" fill="#A9ABAE"/>
<circle cx="1896.32" cy="356.45" r="3.2" fill="#A9ABAE"/>
<circle cx="1908.76" cy="356.45" r="3.2" fill="#A9ABAE"/>
<circle cx="1692.8" cy="319.62" r="3.2" fill="#A9ABAE"/>
<circle cx="1697.91" cy="322.18" r="3.2" fill="#A9ABAE"/>
<circle cx="1691.52" cy="326.66" r="3.2" fill="#A9ABAE"/>
<circle cx="1694.72" cy="347.77" r="3.2" fill="#A9ABAE"/>
<circle cx="1690.24" cy="350.97" r="3.2" fill="#A9ABAE"/>
<circle cx="1698.55" cy="349.69" r="3.2" fill="#A9ABAE"/>
<circle cx="1694.08" cy="353.53" r="3.2" fill="#A9ABAE"/>
<circle cx="1715.83" cy="302.34" r="3.2" fill="#A9ABAE"/>
<circle cx="1723.51" cy="302.34" r="3.2" fill="#A9ABAE"/>
<circle cx="1721.59" cy="313.86" r="3.2" fill="#A9ABAE"/>
<circle cx="1717.11" cy="322.18" r="3.2" fill="#A9ABAE"/>
<circle cx="1726.07" cy="322.18" r="3.2" fill="#A9ABAE"/>
<circle cx="1719.67" cy="331.14" r="3.2" fill="#A9ABAE"/>
<circle cx="1726.07" cy="331.78" r="3.2" fill="#A9ABAE"/>
<circle cx="1721.59" cy="353.53" r="3.2" fill="#A9ABAE"/>
<circle cx="1743.98" cy="315.14" r="3.2" fill="#A9ABAE"/>
<circle cx="1750.38" cy="331.14" r="3.2" fill="#A9ABAE"/>
<circle cx="1746.54" cy="337.53" r="3.2" fill="#A9ABAE"/>
<circle cx="1754.22" cy="342.01" r="3.2" fill="#A9ABAE"/>
<circle cx="1745.26" cy="346.49" r="3.2" fill="#A9ABAE"/>
<circle cx="1750.38" cy="349.69" r="3.2" fill="#A9ABAE"/>
<circle cx="1742.7" cy="350.97" r="3.2" fill="#A9ABAE"/>
<circle cx="1754.22" cy="350.97" r="3.2" fill="#A9ABAE"/>
<circle cx="1747.82" cy="352.89" r="3.2" fill="#A9ABAE"/>
<circle cx="1769.57" cy="324.1" r="3.2" fill="#A9ABAE"/>
<circle cx="1781.73" cy="329.22" r="3.2" fill="#A9ABAE"/>
<circle cx="1769.57" cy="332.42" r="3.2" fill="#A9ABAE"/>
<circle cx="1777.25" cy="334.97" r="3.2" fill="#A9ABAE"/>
<circle cx="1773.41" cy="342.01" r="3.2" fill="#A9ABAE"/>
<circle cx="1769.57" cy="344.57" r="3.2" fill="#A9ABAE"/>
<circle cx="1777.25" cy="343.93" r="3.2" fill="#A9ABAE"/>
<circle cx="1773.41" cy="349.69" r="3.2" fill="#A9ABAE"/>
<circle cx="1781.73" cy="354.81" r="3.2" fill="#A9ABAE"/>
<circle cx="1818.55" cy="298.51" r="3.2" fill="#A9ABAE"/>
<circle cx="1814.08" cy="307.46" r="3.2" fill="#A9ABAE"/>
<circle cx="1822.39" cy="307.46" r="3.2" fill="#A9ABAE"/>
<circle cx="1818.55" cy="312.58" r="3.2" fill="#A9ABAE"/>
<circle cx="1817.91" cy="322.18" r="3.2" fill="#A9ABAE"/>
<circle cx="1812.8" cy="330.5" r="3.2" fill="#A9ABAE"/>
<circle cx="1820.47" cy="334.97" r="3.2" fill="#A9ABAE"/>
<circle cx="1816.63" cy="340.09" r="3.2" fill="#A9ABAE"/>
<circle cx="1819.19" cy="349.69" r="3.2" fill="#A9ABAE"/>
<circle cx="1814.72" cy="353.53" r="3.2" fill="#A9ABAE"/>
<circle cx="1822.39" cy="353.53" r="3.2" fill="#A9ABAE"/>
<circle cx="1845.43" cy="307.46" r="3.2" fill="#A9ABAE"/>
<circle cx="1842.23" cy="312.58" r="3.2" fill="#A9ABAE"/>
<circle cx="1847.98" cy="318.98" r="3.2" fill="#A9ABAE"/>
<circle cx="1844.79" cy="322.82" r="3.2" fill="#A9ABAE"/>
<circle cx="1845.43" cy="328.58" r="3.2" fill="#A9ABAE"/>
<circle cx="1843.51" cy="340.73" r="3.2" fill="#A9ABAE"/>
<circle cx="1847.34" cy="342.01" r="3.2" fill="#A9ABAE"/>
<circle cx="1845.43" cy="353.53" r="3.2" fill="#A9ABAE"/>
<circle cx="1869.74" cy="333.06" r="3.2" fill="#A9ABAE"/>
<circle cx="1875.5" cy="330.5" r="3.2" fill="#A9ABAE"/>
<circle cx="1878.06" cy="345.85" r="3.2" fill="#A9ABAE"/>
<circle cx="1866.54" cy="349.05" r="3.2" fill="#A9ABAE"/>
<circle cx="1874.22" cy="347.13" r="3.2" fill="#A9ABAE"/>
<circle cx="1870.38" cy="353.53" r="3.2" fill="#A9ABAE"/>
<circle cx="1874.22" cy="356.09" r="3.2" fill="#A9ABAE"/>
<circle cx="1904.93" cy="331.78" r="3.2" fill="#A9ABAE"/>
<circle cx="1894.69" cy="340.73" r="3.2" fill="#A9ABAE"/>
<circle cx="1902.37" cy="339.45" r="3.2" fill="#A9ABAE"/>
<circle cx="1906.21" cy="338.17" r="3.2" fill="#A9ABAE"/>
<circle cx="1895.97" cy="349.69" r="3.2" fill="#A9ABAE"/>
<circle cx="1901.73" cy="352.89" r="3.2" fill="#A9ABAE"/>
<circle cx="1892.77" cy="344.57" r="3.2" fill="#A9ABAE"/>
<circle cx="1812.48" cy="359.61" r="3.2" fill="#A9ABAE"/>
<circle cx="1820.47" cy="357.37" r="3.2" fill="#A9ABAE"/>
<circle cx="1824.31" cy="356.09" r="3.2" fill="#A9ABAE"/>
<circle cx="1870.38" cy="362.49" r="3.2" fill="#A9ABAE"/>
<circle cx="1895.97" cy="356.09" r="3.2" fill="#A9ABAE"/>
<path d="M1691.9 356.6H1911" stroke="#000" stroke-width="1.8" fill="none" stroke-dasharray="1.8 9.57"/>
<path d="M1685.7 316.5H1703.9M1694.8 304.7V327.7M1689.8 304.7H1699.8M1689.8 327.7H1699.8" stroke="#000" stroke-width="1.6" fill="none"/>
<path d="M1712.6 276.6H1730.8M1721.7 268.7V285.8M1716.7 268.7H1726.7M1716.7 285.8H1726.7" stroke="#000" stroke-width="1.6" fill="none"/>
<path d="M1739.8 311.7H1758M1748.9 300.2V323M1743.9 300.2H1753.9M1743.9 323H1753.9" stroke="#14592F" stroke-width="1.6" fill="none"/>
<path d="M1766.6 314.3H1784.8M1775.7 310V318.5M1770.7 310H1780.7M1770.7 318.5H1780.7" stroke="#14592F" stroke-width="1.6" fill="none"/>
<path d="M1809.6 285.8H1827.8M1818.7 284V287.6M1813.7 284H1823.7M1813.7 287.6H1823.7" stroke="#000" stroke-width="1.6" fill="none"/>
<path d="M1836.5 287.7H1854.7M1845.6 283.8V291.6M1840.6 283.8H1850.6M1840.6 291.6H1850.6" stroke="#000" stroke-width="1.6" fill="none"/>
<path d="M1863.4 326.7H1881.6M1872.5 316.5V337.5M1867.5 316.5H1877.5M1867.5 337.5H1877.5" stroke="#14592F" stroke-width="1.6" fill="none"/>
<path d="M1890.5 329H1908.7M1899.6 324.1V333.5M1894.6 324.1H1904.6M1894.6 333.5H1904.6" stroke="#14592F" stroke-width="1.6" fill="none"/>
<circle cx="1694.43" cy="291.65" r="4.6" fill="#000"/>
<circle cx="1694.43" cy="303.43" r="4.6" fill="#000"/>
<circle cx="1699.28" cy="331.58" r="4.6" fill="#000"/>
<circle cx="1690.37" cy="339.04" r="4.6" fill="#000"/>
<circle cx="1721.53" cy="254.99" r="4.6" fill="#000"/>
<circle cx="1721.53" cy="272.66" r="4.6" fill="#000"/>
<circle cx="1716.95" cy="289.68" r="4.6" fill="#000"/>
<circle cx="1726.12" cy="289.03" r="4.6" fill="#000"/>
<circle cx="1748.5" cy="288.64" r="4.6" fill="#14592F"/>
<circle cx="1752.96" cy="320.71" r="4.6" fill="#14592F"/>
<circle cx="1744.05" cy="325.95" r="4.6" fill="#14592F"/>
<circle cx="1771.29" cy="308.67" r="4.6" fill="#14592F"/>
<circle cx="1779.8" cy="310.37" r="4.6" fill="#14592F"/>
<circle cx="1775.21" cy="323.07" r="4.6" fill="#14592F"/>
<circle cx="1819.07" cy="281.17" r="4.6" fill="#000"/>
<circle cx="1814.49" cy="283.79" r="4.6" fill="#000"/>
<circle cx="1823" cy="283.79" r="4.6" fill="#000"/>
<circle cx="1813.84" cy="290.99" r="4.6" fill="#000"/>
<circle cx="1818.42" cy="287.72" r="4.6" fill="#000"/>
<circle cx="1823" cy="288.37" r="4.6" fill="#000"/>
<circle cx="1849.84" cy="274.23" r="4.6" fill="#000"/>
<circle cx="1841.07" cy="279.21" r="4.6" fill="#000"/>
<circle cx="1849.84" cy="283.79" r="4.6" fill="#000"/>
<circle cx="1845.26" cy="291.65" r="4.6" fill="#000"/>
<circle cx="1849.84" cy="293.61" r="4.6" fill="#000"/>
<circle cx="1841.07" cy="302.78" r="4.6" fill="#000"/>
<circle cx="1872.1" cy="312.33" r="4.6" fill="#14592F"/>
<circle cx="1872.1" cy="341.79" r="4.6" fill="#14592F"/>
<circle cx="1903.52" cy="324.12" r="4.6" fill="#14592F"/>
<circle cx="1895.01" cy="332.89" r="4.6" fill="#14592F"/>
<path d="M1681.4 62.05V371.5H1914M1673.2 356.6H1681.4M1673.2 283.15H1681.4M1673.2 209.7H1681.4M1673.2 136.25H1681.4M1673.2 62.8H1681.4" stroke="#000" stroke-width="1.6" fill="none" stroke-linejoin="miter"/>
<text x="1669.3" y="364.6" font-size="23" text-anchor="end">0</text>
<text x="1669.3" y="291.15" font-size="23" text-anchor="end">25</text>
<text x="1669.3" y="217.7" font-size="23" text-anchor="end">50</text>
<text x="1669.3" y="144.25" font-size="23" text-anchor="end">75</text>
<text x="1669.3" y="70.8" font-size="23" text-anchor="end">100</text>
<text x="1616.6" y="218" font-size="22.5" text-anchor="middle" transform="rotate(-90 1616.6 218)">Exocytosis (fF/pF)</text>
<path d="M1694.8 213.7V99.4H1818.4V122.8" stroke="#161616" stroke-width="1.45" fill="none" stroke-linejoin="miter"/>
<path d="M1721.7 129.8V122.6H1774.9V216.5" stroke="#161616" stroke-width="1.45" fill="none" stroke-linejoin="miter"/>
<path d="M1845 163.9V138H1899.9V279.5" stroke="#161616" stroke-width="1.45" fill="none" stroke-linejoin="miter"/>
<text x="1733.81" y="103.62" font-size="34" fill="#1a1a1a" stroke="#1a1a1a" stroke-width="0.5" letter-spacing="2.2">**</text>
<text x="1762.74" y="91.34" font-size="20" font-style="italic" fill="#1a1a1a">,</text>
<text x="1765.49" y="91.71" font-size="15.9" font-style="italic" fill="#1a1a1a" letter-spacing="-1.9">@@</text>
<text x="1732.81" y="127.72" font-size="34" fill="#1a1a1a" stroke="#1a1a1a" stroke-width="0.5">*</text>
<text x="1744.84" y="116.34" font-size="20" font-style="italic" fill="#1a1a1a">,</text>
<text x="1747.99" y="116.71" font-size="15.9" font-style="italic" fill="#1a1a1a" letter-spacing="-1.9">@@</text>
<text x="1699.21" y="158.73" font-size="34" fill="#1a1a1a" stroke="#1a1a1a" stroke-width="0.5" letter-spacing="2.2">**</text>
<text x="1728.54" y="148.74" font-size="20" font-style="italic" fill="#1a1a1a">,</text>
<text x="1731.69" y="149.11" font-size="15.9" font-style="italic" fill="#1a1a1a" letter-spacing="-1.9">@@</text>
<text x="1843.91" y="143.62" font-size="34" fill="#1a1a1a" stroke="#1a1a1a" stroke-width="0.5" letter-spacing="2.2">**</text>
<text x="1871.94" y="131.44" font-size="20" font-style="italic" fill="#1a1a1a">,</text>
<text x="1874.79" y="131.81" font-size="15.9" font-style="italic" fill="#1a1a1a" letter-spacing="-1.9">@@</text>
<text x="1858.91" y="234.73" font-size="34" fill="#1a1a1a" stroke="#1a1a1a" stroke-width="0.5" letter-spacing="2.2">**</text>
<text x="1856.89" y="237.71" font-size="15.9" font-style="italic" fill="#1a1a1a" letter-spacing="-1.9">@@</text>
<text x="1571.8" y="397.7" font-size="23">2.8 mM G</text>
<text x="1572.3" y="424.5" font-size="23">10 mM G</text>
<text y="393.4" font-size="20" text-anchor="middle"><tspan x="1698.3">+</tspan><tspan x="1719.4">-</tspan><tspan x="1744.9">+</tspan><tspan x="1765.8">-</tspan><tspan x="1821.9">+</tspan><tspan x="1843">-</tspan><tspan x="1868.5">+</tspan><tspan x="1889.4">-</tspan></text>
<text y="422.1" font-size="20" text-anchor="middle"><tspan x="1698.3">-</tspan><tspan x="1719.4">+</tspan><tspan x="1744.9">-</tspan><tspan x="1765.8">+</tspan><tspan x="1821.9">-</tspan><tspan x="1843">+</tspan><tspan x="1868.5">-</tspan><tspan x="1889.4">+</tspan></text>
<path d="M1684.4 427H1791.2M1813.2 427H1919.7" stroke="#000" stroke-width="1.5" fill="none"/>
<text x="1735" y="449.9" font-size="22" text-anchor="middle" font-style="italic">CD</text>
<text x="1861.7" y="449.9" font-size="22" text-anchor="middle" font-style="italic">HFD</text>
<text x="1946.9" y="279.9" font-size="23.5" transform="rotate(-90 1946.9 279.9)">βSENP1-WT</text>
<text x="1971.3" y="279.9" font-size="23" transform="rotate(-90 1971.3 279.9)">βSENP1-KO</text>
<rect x="1931.1" y="300.6" width="11.9" height="28.1" fill="#050505"/>
<rect x="1955.1" y="300.6" width="12.1" height="28.1" fill="#14592F"/>
</g>
<g>
<text x="1536.3" y="526" font-size="48.6">F</text>
<text x="1620.3" y="525.5" font-size="28" font-weight="bold">4-week HFD</text>
<rect x="1685.7" y="785.4" width="18.2" height="56.3" fill="#A6A4A5"/>
<rect x="1712.6" y="754.6" width="18.2" height="87.1" fill="#A6A4A5"/>
<rect x="1739.8" y="809" width="18.2" height="32.7" fill="#A8C3AF"/>
<rect x="1766.6" y="784.1" width="18.2" height="57.6" fill="#A8C3AF"/>
<rect x="1809.6" y="751.4" width="18.2" height="90.3" fill="#A6A4A5"/>
<rect x="1836.5" y="733.7" width="18.2" height="108" fill="#A6A4A5"/>
<rect x="1863.4" y="777.5" width="18.2" height="64.2" fill="#A8C3AF"/>
<rect x="1890.5" y="771.3" width="18.2" height="70.4" fill="#A8C3AF"/>
<circle cx="1717.61" cy="671.87" r="3.2" fill="#A9ABAE"/>
<circle cx="1721.53" cy="672.53" r="3.2" fill="#A9ABAE"/>
<circle cx="1725.46" cy="670.56" r="3.2" fill="#A9ABAE"/>
<circle cx="1719.57" cy="675.15" r="3.2" fill="#A9ABAE"/>
<circle cx="1723.5" cy="676.45" r="3.2" fill="#A9ABAE"/>
<circle cx="1818.42" cy="661.01" r="3.2" fill="#A9ABAE"/>
<circle cx="1818.42" cy="667.94" r="3.2" fill="#A9ABAE"/>
<circle cx="1818.42" cy="670.56" r="3.2" fill="#A9ABAE"/>
<circle cx="1845.26" cy="612.3" r="3.2" fill="#A9ABAE"/>
<circle cx="1845.26" cy="646.34" r="3.2" fill="#A9ABAE"/>
<circle cx="1845.26" cy="652.23" r="3.2" fill="#A9ABAE"/>
<circle cx="1843.95" cy="658.78" r="3.2" fill="#A9ABAE"/>
<circle cx="1846.57" cy="660.09" r="3.2" fill="#A9ABAE"/>
<circle cx="1845.26" cy="666.64" r="3.2" fill="#A9ABAE"/>
<circle cx="1845.26" cy="675.8" r="3.2" fill="#A9ABAE"/>
<circle cx="1872.1" cy="668.6" r="3.2" fill="#A9ABAE"/>
<circle cx="1899.59" cy="645.95" r="3.2" fill="#A9ABAE"/>
<circle cx="1900.9" cy="660.74" r="3.2" fill="#A9ABAE"/>
<circle cx="1897.63" cy="664.02" r="3.2" fill="#A9ABAE"/>
<circle cx="1899.59" cy="672.53" r="3.2" fill="#A9ABAE"/>
<circle cx="1899.59" cy="678.42" r="3.2" fill="#A9ABAE"/>
<circle cx="1694.43" cy="682.62" r="3.2" fill="#A9ABAE"/>
<circle cx="1694.43" cy="688.51" r="3.2" fill="#A9ABAE"/>
<circle cx="1694.43" cy="694.4" r="3.2" fill="#A9ABAE"/>
<circle cx="1694.43" cy="716.66" r="3.2" fill="#A9ABAE"/>
<circle cx="1694.43" cy="727.13" r="3.2" fill="#A9ABAE"/>
<circle cx="1693.39" cy="732.37" r="3.2" fill="#A9ABAE"/>
<circle cx="1696" cy="731.72" r="3.2" fill="#A9ABAE"/>
<circle cx="1694.43" cy="740.23" r="3.2" fill="#A9ABAE"/>
<circle cx="1694.43" cy="847.58" r="3.2" fill="#A9ABAE"/>
<circle cx="1721.53" cy="681.96" r="3.2" fill="#A9ABAE"/>
<circle cx="1721.53" cy="700.95" r="3.2" fill="#A9ABAE"/>
<circle cx="1721.53" cy="710.77" r="3.2" fill="#A9ABAE"/>
<circle cx="1715.64" cy="725.17" r="3.2" fill="#A9ABAE"/>
<circle cx="1719.57" cy="727.13" r="3.2" fill="#A9ABAE"/>
<circle cx="1723.5" cy="729.75" r="3.2" fill="#A9ABAE"/>
<circle cx="1727.43" cy="727.79" r="3.2" fill="#A9ABAE"/>
<circle cx="1721.53" cy="738.92" r="3.2" fill="#A9ABAE"/>
<circle cx="1748.5" cy="743.5" r="3.2" fill="#A9ABAE"/>
<circle cx="1748.5" cy="750.7" r="3.2" fill="#A9ABAE"/>
<circle cx="1749.68" cy="769.03" r="3.2" fill="#A9ABAE"/>
<circle cx="1747.06" cy="771.65" r="3.2" fill="#A9ABAE"/>
<circle cx="1749.03" cy="777.54" r="3.2" fill="#A9ABAE"/>
<circle cx="1750.34" cy="782.12" r="3.2" fill="#A9ABAE"/>
<circle cx="1747.06" cy="785.39" r="3.2" fill="#A9ABAE"/>
<circle cx="1743.79" cy="841.69" r="3.2" fill="#A9ABAE"/>
<circle cx="1754.27" cy="843" r="3.2" fill="#A9ABAE"/>
<circle cx="1748.5" cy="839.73" r="3.2" fill="#A9ABAE"/>
<circle cx="1774.56" cy="686.55" r="3.2" fill="#A9ABAE"/>
<circle cx="1776.26" cy="692.7" r="3.2" fill="#A9ABAE"/>
<circle cx="1775.21" cy="727.13" r="3.2" fill="#A9ABAE"/>
<circle cx="1775.21" cy="740.23" r="3.2" fill="#A9ABAE"/>
<circle cx="1775.21" cy="751.35" r="3.2" fill="#A9ABAE"/>
<circle cx="1775.21" cy="842.35" r="3.2" fill="#A9ABAE"/>
<circle cx="1818.42" cy="693.75" r="3.2" fill="#A9ABAE"/>
<circle cx="1818.42" cy="700.95" r="3.2" fill="#A9ABAE"/>
<circle cx="1818.42" cy="708.15" r="3.2" fill="#A9ABAE"/>
<circle cx="1819.07" cy="719.28" r="3.2" fill="#A9ABAE"/>
<circle cx="1816.45" cy="723.21" r="3.2" fill="#A9ABAE"/>
<circle cx="1820.38" cy="729.75" r="3.2" fill="#A9ABAE"/>
<circle cx="1816.45" cy="725.82" r="3.2" fill="#A9ABAE"/>
<circle cx="1818.42" cy="733.68" r="3.2" fill="#A9ABAE"/>
<circle cx="1814.49" cy="734.99" r="3.2" fill="#A9ABAE"/>
<circle cx="1822.35" cy="734.99" r="3.2" fill="#A9ABAE"/>
<circle cx="1845.26" cy="681.96" r="3.2" fill="#A9ABAE"/>
<circle cx="1847.22" cy="689.16" r="3.2" fill="#A9ABAE"/>
<circle cx="1843.29" cy="693.75" r="3.2" fill="#A9ABAE"/>
<circle cx="1845.26" cy="697.02" r="3.2" fill="#A9ABAE"/>
<circle cx="1845.26" cy="705.53" r="3.2" fill="#A9ABAE"/>
<circle cx="1845.26" cy="725.17" r="3.2" fill="#A9ABAE"/>
<circle cx="1872.1" cy="681.96" r="3.2" fill="#A9ABAE"/>
<circle cx="1869.48" cy="686.55" r="3.2" fill="#A9ABAE"/>
<circle cx="1874.72" cy="685.89" r="3.2" fill="#A9ABAE"/>
<circle cx="1872.1" cy="689.82" r="3.2" fill="#A9ABAE"/>
<circle cx="1872.1" cy="697.67" r="3.2" fill="#A9ABAE"/>
<circle cx="1872.75" cy="725.17" r="3.2" fill="#A9ABAE"/>
<circle cx="1870.79" cy="729.75" r="3.2" fill="#A9ABAE"/>
<circle cx="1872.1" cy="736.3" r="3.2" fill="#A9ABAE"/>
<circle cx="1869.48" cy="835.8" r="3.2" fill="#A9ABAE"/>
<circle cx="1899.59" cy="685.89" r="3.2" fill="#A9ABAE"/>
<circle cx="1897.63" cy="695.71" r="3.2" fill="#A9ABAE"/>
<circle cx="1901.56" cy="697.02" r="3.2" fill="#A9ABAE"/>
<circle cx="1899.59" cy="711.42" r="3.2" fill="#A9ABAE"/>
<circle cx="1899.59" cy="724.51" r="3.2" fill="#A9ABAE"/>
<circle cx="1896.97" cy="849.55" r="3.2" fill="#A9ABAE"/>
<circle cx="1902.21" cy="846.93" r="3.2" fill="#A9ABAE"/>
<circle cx="1899.59" cy="844.96" r="3.2" fill="#A9ABAE"/>
<circle cx="1690.56" cy="791.18" r="3.2" fill="#A9ABAE"/>
<circle cx="1698.55" cy="791.18" r="3.2" fill="#A9ABAE"/>
<circle cx="1694.59" cy="795.02" r="3.2" fill="#A9ABAE"/>
<circle cx="1691.52" cy="803.98" r="3.2" fill="#A9ABAE"/>
<circle cx="1690.24" cy="823.17" r="3.2" fill="#A9ABAE"/>
<circle cx="1699.19" cy="823.17" r="3.2" fill="#A9ABAE"/>
<circle cx="1694.59" cy="828.29" r="3.2" fill="#A9ABAE"/>
<circle cx="1695.99" cy="830.85" r="3.2" fill="#A9ABAE"/>
<circle cx="1691.52" cy="834.69" r="3.2" fill="#A9ABAE"/>
<circle cx="1698.55" cy="835.97" r="3.2" fill="#A9ABAE"/>
<circle cx="1694.59" cy="838.53" r="3.2" fill="#A9ABAE"/>
<circle cx="1719.67" cy="778.39" r="3.2" fill="#A9ABAE"/>
<circle cx="1723.51" cy="778.39" r="3.2" fill="#A9ABAE"/>
<circle cx="1720.95" cy="787.34" r="3.2" fill="#A9ABAE"/>
<circle cx="1719.67" cy="797.58" r="3.2" fill="#A9ABAE"/>
<circle cx="1723.51" cy="801.42" r="3.2" fill="#A9ABAE"/>
<circle cx="1719.67" cy="810.38" r="3.2" fill="#A9ABAE"/>
<circle cx="1724.15" cy="815.5" r="3.2" fill="#A9ABAE"/>
<circle cx="1717.75" cy="819.33" r="3.2" fill="#A9ABAE"/>
<circle cx="1721.59" cy="828.29" r="3.2" fill="#A9ABAE"/>
<circle cx="1744.62" cy="818.69" r="3.2" fill="#A9ABAE"/>
<circle cx="1752.3" cy="820.61" r="3.2" fill="#A9ABAE"/>
<circle cx="1746.54" cy="829.57" r="3.2" fill="#A9ABAE"/>
<circle cx="1750.38" cy="828.29" r="3.2" fill="#A9ABAE"/>
<circle cx="1748.46" cy="834.69" r="3.2" fill="#A9ABAE"/>
<circle cx="1744.62" cy="838.53" r="3.2" fill="#A9ABAE"/>
<circle cx="1752.3" cy="838.53" r="3.2" fill="#A9ABAE"/>
<circle cx="1742.7" cy="841.09" r="3.2" fill="#A9ABAE"/>
<circle cx="1754.22" cy="843.01" r="3.2" fill="#A9ABAE"/>
<circle cx="1769.57" cy="789.26" r="3.2" fill="#A9ABAE"/>
<circle cx="1781.73" cy="787.98" r="3.2" fill="#A9ABAE"/>
<circle cx="1775.52" cy="797.58" r="3.2" fill="#A9ABAE"/>
<circle cx="1775.52" cy="807.18" r="3.2" fill="#A9ABAE"/>
<circle cx="1775.52" cy="812.3" r="3.2" fill="#A9ABAE"/>
<circle cx="1775.52" cy="818.06" r="3.2" fill="#A9ABAE"/>
<circle cx="1775.52" cy="823.17" r="3.2" fill="#A9ABAE"/>
<circle cx="1775.52" cy="828.29" r="3.2" fill="#A9ABAE"/>
<circle cx="1775.52" cy="832.77" r="3.2" fill="#A9ABAE"/>
<circle cx="1818.55" cy="764.31" r="3.2" fill="#A9ABAE"/>
<circle cx="1817.91" cy="770.71" r="3.2" fill="#A9ABAE"/>
<circle cx="1818.55" cy="778.39" r="3.2" fill="#A9ABAE"/>
<circle cx="1815.99" cy="782.87" r="3.2" fill="#A9ABAE"/>
<circle cx="1820.47" cy="783.51" r="3.2" fill="#A9ABAE"/>
<circle cx="1817.91" cy="790.54" r="3.2" fill="#A9ABAE"/>
<circle cx="1813.44" cy="796.3" r="3.2" fill="#A9ABAE"/>
<circle cx="1818.55" cy="796.94" r="3.2" fill="#A9ABAE"/>
<circle cx="1823.67" cy="796.3" r="3.2" fill="#A9ABAE"/>
<circle cx="1818.55" cy="805.26" r="3.2" fill="#A9ABAE"/>
<circle cx="1844.79" cy="771.99" r="3.2" fill="#A9ABAE"/>
<circle cx="1847.34" cy="774.55" r="3.2" fill="#A9ABAE"/>
<circle cx="1842.23" cy="784.15" r="3.2" fill="#A9ABAE"/>
<circle cx="1847.98" cy="784.15" r="3.2" fill="#A9ABAE"/>
<circle cx="1845.43" cy="799.5" r="3.2" fill="#A9ABAE"/>
<circle cx="1845.43" cy="806.54" r="3.2" fill="#A9ABAE"/>
<circle cx="1844.15" cy="809.74" r="3.2" fill="#A9ABAE"/>
<circle cx="1845.43" cy="830.21" r="3.2" fill="#A9ABAE"/>
<circle cx="1867.18" cy="788.62" r="3.2" fill="#A9ABAE"/>
<circle cx="1878.06" cy="787.66" r="3.2" fill="#A9ABAE"/>
<circle cx="1869.1" cy="797.58" r="3.2" fill="#A9ABAE"/>
<circle cx="1875.5" cy="803.98" r="3.2" fill="#A9ABAE"/>
<circle cx="1867.82" cy="807.82" r="3.2" fill="#A9ABAE"/>
<circle cx="1876.78" cy="806.54" r="3.2" fill="#A9ABAE"/>
<circle cx="1872.3" cy="821.89" r="3.2" fill="#A9ABAE"/>
<circle cx="1870.38" cy="825.09" r="3.2" fill="#A9ABAE"/>
<circle cx="1874.22" cy="829.57" r="3.2" fill="#A9ABAE"/>
<circle cx="1869.1" cy="835.33" r="3.2" fill="#A9ABAE"/>
<circle cx="1876.14" cy="835.33" r="3.2" fill="#A9ABAE"/>
<circle cx="1902.37" cy="774.55" r="3.2" fill="#A9ABAE"/>
<circle cx="1897.89" cy="778.39" r="3.2" fill="#A9ABAE"/>
<circle cx="1894.05" cy="808.46" r="3.2" fill="#A9ABAE"/>
<circle cx="1904.93" cy="806.54" r="3.2" fill="#A9ABAE"/>
<circle cx="1899.17" cy="810.38" r="3.2" fill="#A9ABAE"/>
<circle cx="1897.25" cy="816.78" r="3.2" fill="#A9ABAE"/>
<circle cx="1902.37" cy="816.78" r="3.2" fill="#A9ABAE"/>
<circle cx="1897.25" cy="825.09" r="3.2" fill="#A9ABAE"/>
<circle cx="1901.73" cy="827.65" r="3.2" fill="#A9ABAE"/>
<circle cx="1899.17" cy="830.85" r="3.2" fill="#A9ABAE"/>
<circle cx="1899.17" cy="841.73" r="3.2" fill="#A9ABAE"/>
<circle cx="1897.25" cy="844.93" r="3.2" fill="#A9ABAE"/>
<circle cx="1901.73" cy="846.21" r="3.2" fill="#A9ABAE"/>
<circle cx="1896.61" cy="848.77" r="3.2" fill="#A9ABAE"/>
<path d="M1691.9 841.7H1911" stroke="#000" stroke-width="1.8" fill="none" stroke-dasharray="1.8 9.57"/>
<path d="M1685.7 784.1H1703.9M1694.8 767.3V800.2M1689.8 767.3H1699.8M1689.8 800.2H1699.8" stroke="#000" stroke-width="1.6" fill="none"/>
<path d="M1712.6 753.3H1730.8M1721.7 748.1V759.2M1716.7 748.1H1726.7M1716.7 759.2H1726.7" stroke="#000" stroke-width="1.6" fill="none"/>
<path d="M1739.8 806.1H1758M1748.9 796.5V814.9M1743.9 796.5H1753.9M1743.9 814.9H1753.9" stroke="#14592F" stroke-width="1.6" fill="none"/>
<path d="M1766.6 778.8H1784.8M1775.7 771.6V786M1770.7 771.6H1780.7M1770.7 786H1780.7" stroke="#14592F" stroke-width="1.6" fill="none"/>
<path d="M1809.6 748.7H1827.8M1818.7 746.7V750.7M1813.7 746.7H1823.7M1813.7 750.7H1823.7" stroke="#000" stroke-width="1.6" fill="none"/>
<path d="M1836.5 729.1H1854.7M1845.6 718V740.9M1840.6 718H1850.6M1840.6 740.9H1850.6" stroke="#000" stroke-width="1.6" fill="none"/>
<path d="M1863.4 772.7H1881.6M1872.5 761.8V783.4M1867.5 761.8H1877.5M1867.5 783.4H1877.5" stroke="#14592F" stroke-width="1.6" fill="none"/>
<path d="M1890.5 760.3H1908.7M1899.6 750.7V771M1894.6 750.7H1904.6M1894.6 771H1904.6" stroke="#14592F" stroke-width="1.6" fill="none"/>
<circle cx="1694.43" cy="748.08" r="4.6" fill="#000"/>
<circle cx="1694.43" cy="763.79" r="4.6" fill="#000"/>
<circle cx="1699.28" cy="810.27" r="4.6" fill="#000"/>
<circle cx="1690.37" cy="813.54" r="4.6" fill="#000"/>
<circle cx="1717.21" cy="742.84" r="4.6" fill="#000"/>
<circle cx="1726.12" cy="742.84" r="4.6" fill="#000"/>
<circle cx="1726.12" cy="759.86" r="4.6" fill="#000"/>
<circle cx="1717.21" cy="769.03" r="4.6" fill="#000"/>
<circle cx="1748.5" cy="791.94" r="4.6" fill="#14592F"/>
<circle cx="1748.5" cy="802.41" r="4.6" fill="#14592F"/>
<circle cx="1748.5" cy="822.71" r="4.6" fill="#14592F"/>
<circle cx="1775.21" cy="765.76" r="4.6" fill="#14592F"/>
<circle cx="1775.21" cy="781.47" r="4.6" fill="#14592F"/>
<circle cx="1775.21" cy="789.98" r="4.6" fill="#14592F"/>
<circle cx="1813.84" cy="742.19" r="4.6" fill="#000"/>
<circle cx="1823" cy="742.19" r="4.6" fill="#000"/>
<circle cx="1813.84" cy="754.63" r="4.6" fill="#000"/>
<circle cx="1823" cy="753.97" r="4.6" fill="#000"/>
<circle cx="1818.42" cy="748.08" r="4.6" fill="#000"/>
<circle cx="1849.84" cy="712.73" r="4.6" fill="#000"/>
<circle cx="1841.07" cy="717.97" r="4.6" fill="#000"/>
<circle cx="1845.26" cy="748.74" r="4.6" fill="#000"/>
<circle cx="1845.26" cy="763.14" r="4.6" fill="#000"/>
<circle cx="1876.68" cy="746.38" r="4.6" fill="#14592F"/>
<circle cx="1868.17" cy="752.66" r="4.6" fill="#14592F"/>
<circle cx="1876.68" cy="759.86" r="4.6" fill="#14592F"/>
<circle cx="1868.17" cy="769.03" r="4.6" fill="#14592F"/>
<circle cx="1872.1" cy="794.56" r="4.6" fill="#14592F"/>
<circle cx="1872.1" cy="813.28" r="4.6" fill="#14592F"/>
<circle cx="1904.17" cy="735.25" r="4.6" fill="#14592F"/>
<circle cx="1895.01" cy="740.23" r="4.6" fill="#14592F"/>
<circle cx="1895.01" cy="751.35" r="4.6" fill="#14592F"/>
<circle cx="1904.17" cy="750.04" r="4.6" fill="#14592F"/>
<circle cx="1899.59" cy="786.7" r="4.6" fill="#14592F"/>
<circle cx="1899.59" cy="799.4" r="4.6" fill="#14592F"/>
<path d="M1681.4 547.05V856.6H1914M1673.2 841.7H1681.4M1673.2 768.23H1681.4M1673.2 694.75H1681.4M1673.2 621.27H1681.4M1673.2 547.8H1681.4" stroke="#000" stroke-width="1.6" fill="none" stroke-linejoin="miter"/>
<text x="1669.3" y="849.7" font-size="23" text-anchor="end">0</text>
<text x="1669.3" y="776.23" font-size="23" text-anchor="end">25</text>
<text x="1669.3" y="702.75" font-size="23" text-anchor="end">50</text>
<text x="1669.3" y="629.27" font-size="23" text-anchor="end">75</text>
<text x="1669.3" y="555.8" font-size="23" text-anchor="end">100</text>
<text x="1616.6" y="701.5" font-size="22.5" text-anchor="middle" transform="rotate(-90 1616.6 701.5)">Exocytosis (fF/pF)</text>
<path d="M1721.7 628.2V546H1845.2V603.4" stroke="#161616" stroke-width="1.45" fill="none" stroke-linejoin="miter"/>
<path d="M1748.9 613.7V565H1872.1V572.6" stroke="#161616" stroke-width="1.45" fill="none" stroke-linejoin="miter"/>
<path d="M1845.2 593.1H1899.9V616.7" stroke="#161616" stroke-width="1.45" fill="none" stroke-linejoin="miter"/>
<path d="M1872.1 599.5V641.8" stroke="#161616" stroke-width="1.45" fill="none" stroke-linejoin="miter"/>
<path d="M1693.9 671.7V636.9H1818.1V648.7" stroke="#161616" stroke-width="1.45" fill="none" stroke-linejoin="miter"/>
<path d="M1748.9 640.8V734.3" stroke="#161616" stroke-width="1.45" fill="none" stroke-linejoin="miter"/>
<text x="1775.19" y="540.21" font-size="15.9" font-style="italic" fill="#1a1a1a">@</text>
<text x="1786.61" y="573.72" font-size="34" fill="#1a1a1a" stroke="#1a1a1a" stroke-width="0.5">*</text>
<text x="1801.14" y="560.34" font-size="20" font-style="italic" fill="#1a1a1a">,</text>
<text x="1804.19" y="560.71" font-size="15.9" font-style="italic" fill="#1a1a1a" letter-spacing="-1.9">@@</text>
<text x="1857.59" y="588.31" font-size="15.9" font-style="italic" fill="#1a1a1a" letter-spacing="-1.9">@@</text>
<text x="1731.91" y="640.42" font-size="34" fill="#1a1a1a" stroke="#1a1a1a" stroke-width="0.5">*</text>
<text x="1747.94" y="629.24" font-size="20" font-style="italic" fill="#1a1a1a">,</text>
<text x="1750.99" y="629.61" font-size="15.9" font-style="italic" fill="#1a1a1a" letter-spacing="-1.9">@@</text>
<text x="1713.79" y="656.21" font-size="15.9" font-style="italic" fill="#1a1a1a">@</text>
<text x="1571.8" y="882.9" font-size="23">2.8 mM G</text>
<text x="1572.3" y="909.7" font-size="23">10 mM G</text>
<text y="878.6" font-size="20" text-anchor="middle"><tspan x="1698.3">+</tspan><tspan x="1719.4">-</tspan><tspan x="1744.9">+</tspan><tspan x="1765.8">-</tspan><tspan x="1821.9">+</tspan><tspan x="1843">-</tspan><tspan x="1868.5">+</tspan><tspan x="1889.4">-</tspan></text>
<text y="907.3" font-size="20" text-anchor="middle"><tspan x="1698.3">-</tspan><tspan x="1719.4">+</tspan><tspan x="1744.9">-</tspan><tspan x="1765.8">+</tspan><tspan x="1821.9">-</tspan><tspan x="1843">+</tspan><tspan x="1868.5">-</tspan><tspan x="1889.4">+</tspan></text>
<path d="M1684.4 912.2H1791.2M1813.2 912.2H1919.7" stroke="#000" stroke-width="1.5" fill="none"/>
<text x="1735" y="935.1" font-size="22" text-anchor="middle" font-style="italic">CD</text>
<text x="1861.7" y="935.1" font-size="22" text-anchor="middle" font-style="italic">HFD</text>
<text x="1946.9" y="765.1" font-size="23.5" transform="rotate(-90 1946.9 765.1)">βSENP1-WT</text>
<text x="1971.3" y="765.1" font-size="23" transform="rotate(-90 1971.3 765.1)">βSENP1-KO</text>
<rect x="1931.1" y="785.8" width="11.9" height="28.1" fill="#050505"/>
<rect x="1955.1" y="785.8" width="12.1" height="28.1" fill="#14592F"/>
</g>
</svg>
</body></html>
